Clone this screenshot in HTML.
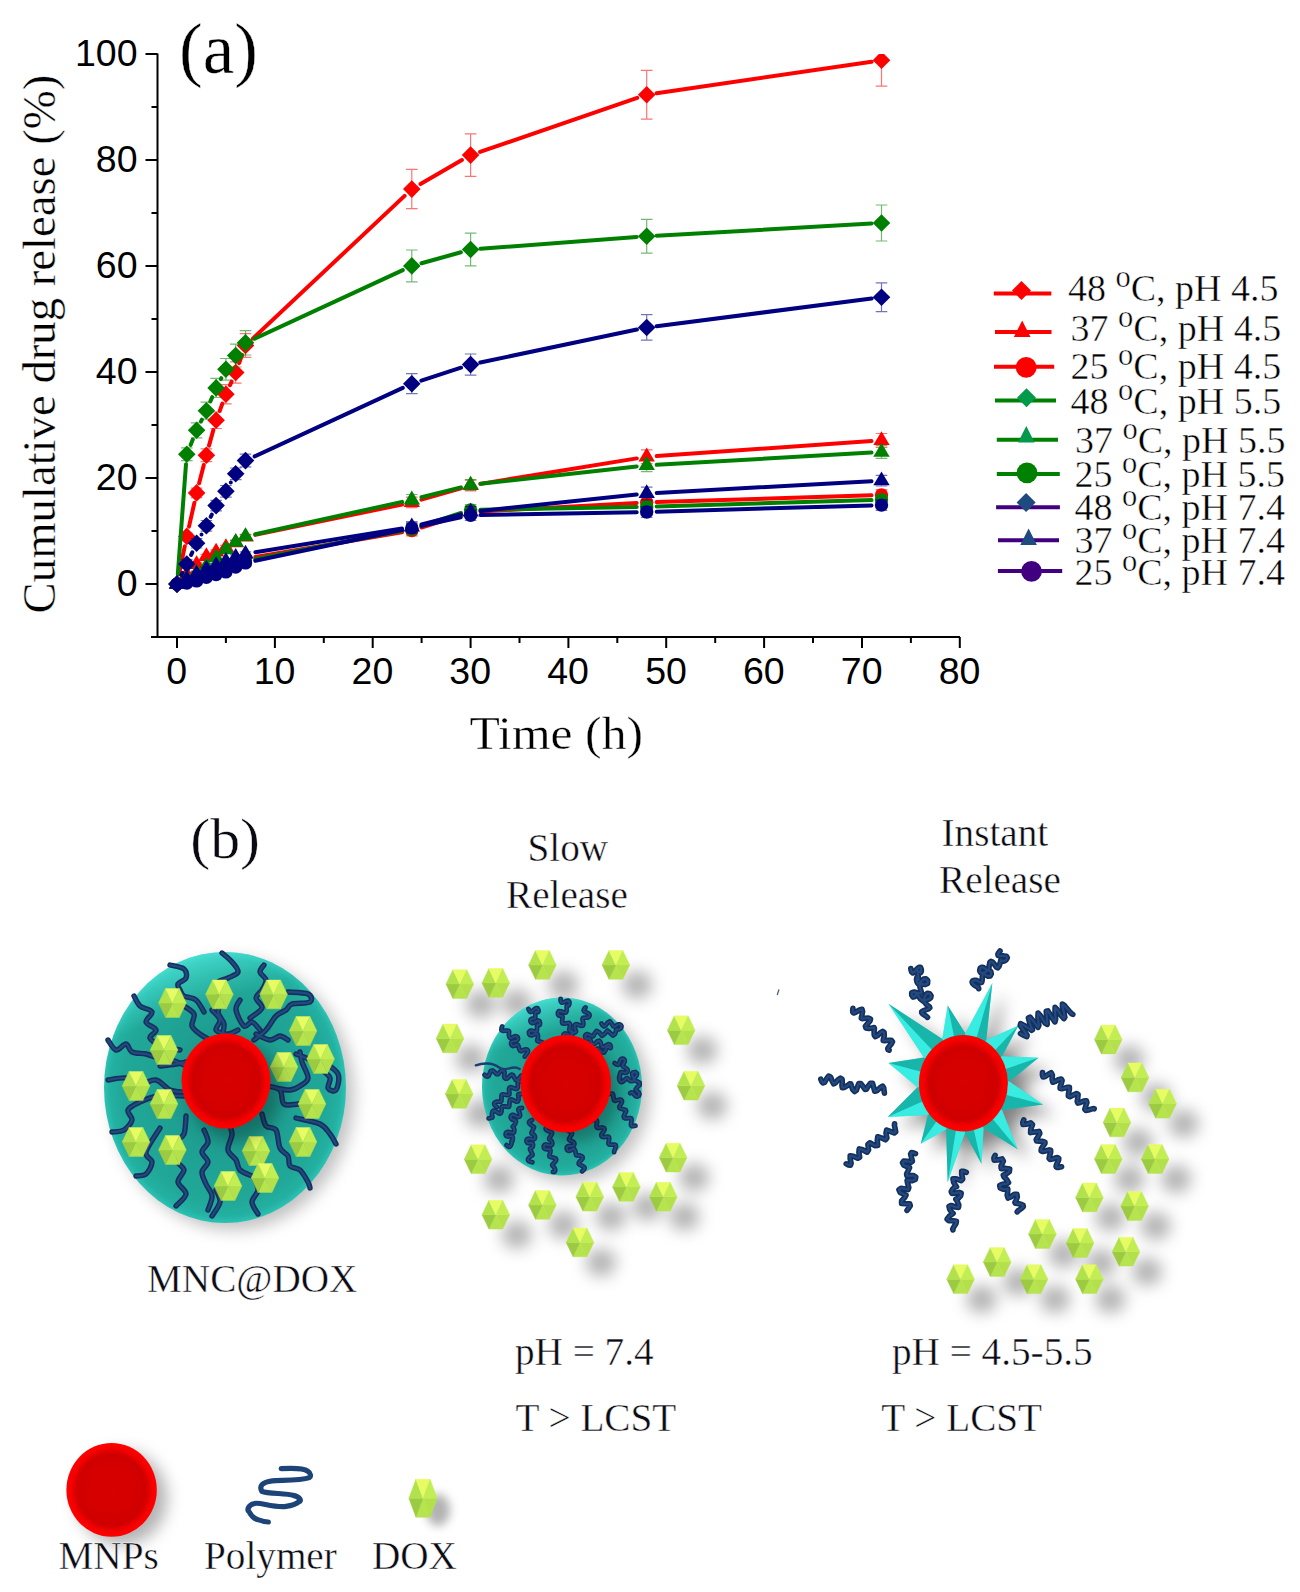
<!DOCTYPE html>
<html><head><meta charset="utf-8"><style>
html,body{margin:0;padding:0;background:#fff;}
svg{display:block;}
</style></head><body>
<svg width="1300" height="1592" viewBox="0 0 1300 1592">
<rect width="1300" height="1592" fill="#fff"/>
<defs><clipPath id="pc"><rect x="158" y="54" width="810" height="582"/></clipPath></defs>
<g clip-path="url(#pc)">
<path d="M177.0 581.4V586.8M171.2 581.4h11.6M171.2 586.8h11.6M186.8 533.2V539.6M181.0 533.2h11.6M181.0 539.6h11.6M196.6 488.1V497.7M190.8 488.1h11.6M190.8 497.7h11.6M206.4 448.9V461.6M200.6 448.9h11.6M200.6 461.6h11.6M216.1 412.0V428.5M210.3 412.0h11.6M210.3 428.5h11.6M225.9 384.7V403.8M220.1 384.7h11.6M220.1 403.8h11.6M235.7 361.9V383.1M229.9 361.9h11.6M229.9 383.1h11.6M245.5 333.6V357.4M239.7 333.6h11.6M239.7 357.4h11.6M411.8 169.4V208.7M406.0 169.4h11.6M406.0 208.7h11.6M470.6 133.9V176.3M464.8 133.9h11.6M464.8 176.3h11.6M646.7 70.3V119.1M640.9 70.3h11.6M640.9 119.1h11.6M881.5 34.2V86.2M875.7 34.2h11.6M875.7 86.2h11.6" stroke="#ff0000" stroke-opacity="0.55" stroke-width="1.2" fill="none"/>
<path d="M179.0 574.3L184.8 546.2M189.0 526.6L194.4 502.7M199.1 483.2L203.8 464.9M209.0 445.6L213.4 429.9M219.7 410.9L222.4 403.6M230.0 385.2L231.6 381.6M239.1 363.1L242.1 354.9M252.8 338.6L404.6 195.9M420.5 184.1L461.9 160.1M480.0 151.9L637.2 97.9M656.6 93.2L871.6 61.7" stroke="#ff0000" stroke-width="4" stroke-linecap="round" fill="none"/>
<path d="M177.0 575.3L185.8 584.1L177.0 592.9L168.2 584.1Z" fill="#ff0000"/>
<path d="M186.8 527.6L195.6 536.4L186.8 545.2L178.0 536.4Z" fill="#ff0000"/>
<path d="M196.6 484.1L205.4 492.9L196.6 501.7L187.8 492.9Z" fill="#ff0000"/>
<path d="M206.4 446.4L215.2 455.2L206.4 464.0L197.6 455.2Z" fill="#ff0000"/>
<path d="M216.1 411.5L224.9 420.3L216.1 429.1L207.3 420.3Z" fill="#ff0000"/>
<path d="M225.9 385.5L234.7 394.3L225.9 403.1L217.1 394.3Z" fill="#ff0000"/>
<path d="M235.7 363.7L244.5 372.5L235.7 381.3L226.9 372.5Z" fill="#ff0000"/>
<path d="M245.5 336.7L254.3 345.5L245.5 354.3L236.7 345.5Z" fill="#ff0000"/>
<path d="M411.8 180.3L420.6 189.1L411.8 197.9L403.0 189.1Z" fill="#ff0000"/>
<path d="M470.6 146.3L479.4 155.1L470.6 163.9L461.8 155.1Z" fill="#ff0000"/>
<path d="M646.7 85.9L655.5 94.7L646.7 103.5L637.9 94.7Z" fill="#ff0000"/>
<path d="M881.5 51.4L890.3 60.2L881.5 69.0L872.7 60.2Z" fill="#ff0000"/>
<path d="M177.0 582.0V586.2M171.2 582.0h11.6M171.2 586.2h11.6M186.8 572.4V576.7M181.0 572.4h11.6M181.0 576.7h11.6M196.6 562.4V566.6M190.8 562.4h11.6M190.8 566.6h11.6M206.4 554.4V558.6M200.6 554.4h11.6M200.6 558.6h11.6M216.1 549.9V554.1M210.3 549.9h11.6M210.3 554.1h11.6M225.9 545.4V549.6M220.1 545.4h11.6M220.1 549.6h11.6M235.7 540.6V544.9M229.9 540.6h11.6M229.9 544.9h11.6M245.5 534.8V539.0M239.7 534.8h11.6M239.7 539.0h11.6M411.8 497.1V507.7M406.0 497.1h11.6M406.0 507.7h11.6M470.6 480.2V490.8M464.8 480.2h11.6M464.8 490.8h11.6M646.7 449.9V463.7M640.9 449.9h11.6M640.9 463.7h11.6M881.5 433.5V447.3M875.7 433.5h11.6M875.7 447.3h11.6" stroke="#ff0000" stroke-opacity="0.55" stroke-width="1.2" fill="none"/>
<path d="M255.3 534.9L402.0 504.5M421.4 499.7L460.9 488.3M480.4 483.9L636.8 458.4M656.7 456.1L871.5 441.1" stroke="#ff0000" stroke-width="4" stroke-linecap="round" fill="none"/>
<path d="M177.0 574.9L185.2 588.7L168.8 588.7Z" fill="#ff0000"/>
<path d="M186.8 565.4L195.0 579.2L178.6 579.2Z" fill="#ff0000"/>
<path d="M196.6 555.3L204.8 569.1L188.4 569.1Z" fill="#ff0000"/>
<path d="M206.4 547.3L214.6 561.1L198.2 561.1Z" fill="#ff0000"/>
<path d="M216.1 542.8L224.3 556.6L207.9 556.6Z" fill="#ff0000"/>
<path d="M225.9 538.3L234.1 552.1L217.7 552.1Z" fill="#ff0000"/>
<path d="M235.7 533.5L243.9 547.3L227.5 547.3Z" fill="#ff0000"/>
<path d="M245.5 527.7L253.7 541.5L237.3 541.5Z" fill="#ff0000"/>
<path d="M411.8 493.2L420.0 507.0L403.6 507.0Z" fill="#ff0000"/>
<path d="M470.6 476.3L478.8 490.1L462.4 490.1Z" fill="#ff0000"/>
<path d="M646.7 447.6L654.9 461.4L638.5 461.4Z" fill="#ff0000"/>
<path d="M881.5 431.2L889.7 445.0L873.3 445.0Z" fill="#ff0000"/>
<path d="M177.0 582.5V585.7M171.2 582.5h11.6M171.2 585.7h11.6M186.8 579.9V583.0M181.0 579.9h11.6M181.0 583.0h11.6M196.6 577.2V580.4M190.8 577.2h11.6M190.8 580.4h11.6M206.4 573.0V576.1M200.6 573.0h11.6M200.6 576.1h11.6M216.1 569.3V572.4M210.3 569.3h11.6M210.3 572.4h11.6M225.9 565.5V568.7M220.1 565.5h11.6M220.1 568.7h11.6M235.7 561.3V564.5M229.9 561.3h11.6M229.9 564.5h11.6M245.5 557.1V560.2M239.7 557.1h11.6M239.7 560.2h11.6M411.8 525.2V535.8M406.0 525.2h11.6M406.0 535.8h11.6M470.6 506.7V517.3M464.8 506.7h11.6M464.8 517.3h11.6M646.7 497.1V507.7M640.9 497.1h11.6M640.9 507.7h11.6M881.5 489.7V500.3M875.7 489.7h11.6M875.7 500.3h11.6" stroke="#ff0000" stroke-opacity="0.55" stroke-width="1.2" fill="none"/>
<path d="M255.4 557.0L402.0 532.2M421.4 527.5L461.0 515.0M480.5 511.4L636.7 503.0M656.7 502.1L871.5 495.3" stroke="#ff0000" stroke-width="4" stroke-linecap="round" fill="none"/>
<circle cx="177.0" cy="584.1" r="6.7" fill="#ff0000"/>
<circle cx="186.8" cy="581.4" r="6.7" fill="#ff0000"/>
<circle cx="196.6" cy="578.8" r="6.7" fill="#ff0000"/>
<circle cx="206.4" cy="574.6" r="6.7" fill="#ff0000"/>
<circle cx="216.1" cy="570.8" r="6.7" fill="#ff0000"/>
<circle cx="225.9" cy="567.1" r="6.7" fill="#ff0000"/>
<circle cx="235.7" cy="562.9" r="6.7" fill="#ff0000"/>
<circle cx="245.5" cy="558.6" r="6.7" fill="#ff0000"/>
<circle cx="411.8" cy="530.5" r="6.7" fill="#ff0000"/>
<circle cx="470.6" cy="512.0" r="6.7" fill="#ff0000"/>
<circle cx="646.7" cy="502.4" r="6.7" fill="#ff0000"/>
<circle cx="881.5" cy="495.0" r="6.7" fill="#ff0000"/>
<path d="M177.0 581.4V586.8M171.2 581.4h11.6M171.2 586.8h11.6M186.8 447.8V460.6M181.0 447.8h11.6M181.0 460.6h11.6M196.6 422.9V437.8M190.8 422.9h11.6M190.8 437.8h11.6M206.4 402.2V419.2M200.6 402.2h11.6M200.6 419.2h11.6M216.1 378.4V397.5M210.3 378.4h11.6M210.3 397.5h11.6M225.9 358.5V380.2M220.1 358.5h11.6M220.1 380.2h11.6M235.7 344.2V367.0M229.9 344.2h11.6M229.9 367.0h11.6M245.5 330.6V355.0M239.7 330.6h11.6M239.7 355.0h11.6M411.8 250.0V281.9M406.0 250.0h11.6M406.0 281.9h11.6M470.6 233.1V265.9M464.8 233.1h11.6M464.8 265.9h11.6M646.7 219.3V253.2M640.9 219.3h11.6M640.9 253.2h11.6M881.5 205.0V241.0M875.7 205.0h11.6M875.7 241.0h11.6" stroke="#008000" stroke-opacity="0.55" stroke-width="1.2" fill="none"/>
<path d="M177.8 574.1L186.0 464.2M190.6 444.9L192.8 439.6M201.0 421.4L201.9 419.7M210.3 401.5L212.2 397.1M220.8 379.1L221.3 378.2M254.6 338.6L402.8 270.1M421.5 263.3L460.9 252.2M480.5 248.8L636.7 237.0M656.7 235.7L871.5 223.6" stroke="#008000" stroke-width="4" stroke-linecap="round" fill="none"/>
<path d="M177.0 575.3L185.8 584.1L177.0 592.9L168.2 584.1Z" fill="#008000"/>
<path d="M186.8 445.4L195.6 454.2L186.8 463.0L178.0 454.2Z" fill="#008000"/>
<path d="M196.6 421.5L205.4 430.3L196.6 439.1L187.8 430.3Z" fill="#008000"/>
<path d="M206.4 401.9L215.2 410.7L206.4 419.5L197.6 410.7Z" fill="#008000"/>
<path d="M216.1 379.1L224.9 387.9L216.1 396.7L207.3 387.9Z" fill="#008000"/>
<path d="M225.9 360.5L234.7 369.3L225.9 378.1L217.1 369.3Z" fill="#008000"/>
<path d="M235.7 346.8L244.5 355.6L235.7 364.4L226.9 355.6Z" fill="#008000"/>
<path d="M245.5 334.0L254.3 342.8L245.5 351.6L236.7 342.8Z" fill="#008000"/>
<path d="M411.8 257.1L420.6 265.9L411.8 274.8L403.0 265.9Z" fill="#008000"/>
<path d="M470.6 240.7L479.4 249.5L470.6 258.3L461.8 249.5Z" fill="#008000"/>
<path d="M646.7 227.5L655.5 236.3L646.7 245.1L637.9 236.3Z" fill="#008000"/>
<path d="M881.5 214.2L890.3 223.0L881.5 231.8L872.7 223.0Z" fill="#008000"/>
<path d="M177.0 582.0V586.2M171.2 582.0h11.6M171.2 586.2h11.6M186.8 576.7V580.9M181.0 576.7h11.6M181.0 580.9h11.6M196.6 570.8V575.1M190.8 570.8h11.6M190.8 575.1h11.6M206.4 564.0V568.2M200.6 564.0h11.6M200.6 568.2h11.6M216.1 555.5V559.7M210.3 555.5h11.6M210.3 559.7h11.6M225.9 547.5V551.8M220.1 547.5h11.6M220.1 551.8h11.6M235.7 540.1V544.3M229.9 540.1h11.6M229.9 544.3h11.6M245.5 534.3V538.5M239.7 534.3h11.6M239.7 538.5h11.6M411.8 494.5V505.1M406.0 494.5h11.6M406.0 505.1h11.6M470.6 479.6V490.2M464.8 479.6h11.6M464.8 490.2h11.6M646.7 459.0V471.7M640.9 459.0h11.6M640.9 471.7h11.6M881.5 445.7V458.4M875.7 445.7h11.6M875.7 458.4h11.6" stroke="#008000" stroke-opacity="0.55" stroke-width="1.2" fill="none"/>
<path d="M255.3 534.2L402.1 501.9M421.5 497.3L460.9 487.4M480.5 483.8L636.7 466.4M656.7 464.8L871.5 452.6" stroke="#008000" stroke-width="4" stroke-linecap="round" fill="none"/>
<path d="M177.0 574.9L185.2 588.7L168.8 588.7Z" fill="#008000"/>
<path d="M186.8 569.6L195.0 583.4L178.6 583.4Z" fill="#008000"/>
<path d="M196.6 563.8L204.8 577.6L188.4 577.6Z" fill="#008000"/>
<path d="M206.4 556.9L214.6 570.7L198.2 570.7Z" fill="#008000"/>
<path d="M216.1 548.4L224.3 562.2L207.9 562.2Z" fill="#008000"/>
<path d="M225.9 540.4L234.1 554.2L217.7 554.2Z" fill="#008000"/>
<path d="M235.7 533.0L243.9 546.8L227.5 546.8Z" fill="#008000"/>
<path d="M245.5 527.2L253.7 541.0L237.3 541.0Z" fill="#008000"/>
<path d="M411.8 490.6L420.0 504.4L403.6 504.4Z" fill="#008000"/>
<path d="M470.6 475.7L478.8 489.5L462.4 489.5Z" fill="#008000"/>
<path d="M646.7 456.1L654.9 469.9L638.5 469.9Z" fill="#008000"/>
<path d="M881.5 442.9L889.7 456.7L873.3 456.7Z" fill="#008000"/>
<path d="M177.0 582.5V585.7M171.2 582.5h11.6M171.2 585.7h11.6M186.8 580.4V583.6M181.0 580.4h11.6M181.0 583.6h11.6M196.6 577.7V580.9M190.8 577.7h11.6M190.8 580.9h11.6M206.4 574.0V577.2M200.6 574.0h11.6M200.6 577.2h11.6M216.1 570.3V573.5M210.3 570.3h11.6M210.3 573.5h11.6M225.9 566.6V569.8M220.1 566.6h11.6M220.1 569.8h11.6M235.7 562.9V566.1M229.9 562.9h11.6M229.9 566.1h11.6M245.5 559.2V562.4M239.7 559.2h11.6M239.7 562.4h11.6M411.8 523.7V534.3M406.0 523.7h11.6M406.0 534.3h11.6M470.6 504.6V515.2M464.8 504.6h11.6M464.8 515.2h11.6M646.7 501.4V512.0M640.9 501.4h11.6M640.9 512.0h11.6M881.5 494.5V505.1M875.7 494.5h11.6M875.7 505.1h11.6" stroke="#008000" stroke-opacity="0.55" stroke-width="1.2" fill="none"/>
<path d="M255.3 558.9L402.0 530.8M421.3 525.9L461.0 513.0M480.5 509.7L636.7 506.9M656.7 506.4L871.5 500.1" stroke="#008000" stroke-width="4" stroke-linecap="round" fill="none"/>
<circle cx="177.0" cy="584.1" r="6.7" fill="#008000"/>
<circle cx="186.8" cy="582.0" r="6.7" fill="#008000"/>
<circle cx="196.6" cy="579.3" r="6.7" fill="#008000"/>
<circle cx="206.4" cy="575.6" r="6.7" fill="#008000"/>
<circle cx="216.1" cy="571.9" r="6.7" fill="#008000"/>
<circle cx="225.9" cy="568.2" r="6.7" fill="#008000"/>
<circle cx="235.7" cy="564.5" r="6.7" fill="#008000"/>
<circle cx="245.5" cy="560.8" r="6.7" fill="#008000"/>
<circle cx="411.8" cy="529.0" r="6.7" fill="#008000"/>
<circle cx="470.6" cy="509.9" r="6.7" fill="#008000"/>
<circle cx="646.7" cy="506.7" r="6.7" fill="#008000"/>
<circle cx="881.5" cy="499.8" r="6.7" fill="#008000"/>
<path d="M177.0 581.4V586.8M171.2 581.4h11.6M171.2 586.8h11.6M186.8 559.7V568.2M181.0 559.7h11.6M181.0 568.2h11.6M196.6 538.5V548.0M190.8 538.5h11.6M190.8 548.0h11.6M206.4 520.5V531.1M200.6 520.5h11.6M200.6 531.1h11.6M216.1 500.3V510.9M210.3 500.3h11.6M210.3 510.9h11.6M225.9 485.5V497.1M220.1 485.5h11.6M220.1 497.1h11.6M235.7 468.0V479.6M229.9 468.0h11.6M229.9 479.6h11.6M245.5 454.2V466.9M239.7 454.2h11.6M239.7 466.9h11.6M411.8 373.6V393.7M406.0 373.6h11.6M406.0 393.7h11.6M470.6 354.0V375.2M464.8 354.0h11.6M464.8 375.2h11.6M646.7 314.7V340.2M640.9 314.7h11.6M640.9 340.2h11.6M881.5 282.9V311.6M875.7 282.9h11.6M875.7 311.6h11.6" stroke="#000080" stroke-opacity="0.55" stroke-width="1.2" fill="none"/>
<path d="M181.4 575.1L182.4 572.9M191.1 554.9L192.3 552.3M201.5 534.5L201.5 534.5M210.7 516.8L211.8 514.6M230.8 482.6L230.8 482.5M254.6 456.4L402.8 387.9M421.3 380.6L461.0 367.7M480.3 362.5L636.9 329.5M656.6 326.2L871.6 298.5" stroke="#000080" stroke-width="4" stroke-linecap="round" fill="none"/>
<path d="M177.0 575.3L185.8 584.1L177.0 592.9L168.2 584.1Z" fill="#000080"/>
<path d="M186.8 555.2L195.6 564.0L186.8 572.8L178.0 564.0Z" fill="#000080"/>
<path d="M196.6 534.5L205.4 543.3L196.6 552.1L187.8 543.3Z" fill="#000080"/>
<path d="M206.4 517.0L215.2 525.8L206.4 534.6L197.6 525.8Z" fill="#000080"/>
<path d="M216.1 496.8L224.9 505.6L216.1 514.4L207.3 505.6Z" fill="#000080"/>
<path d="M225.9 482.5L234.7 491.3L225.9 500.1L217.1 491.3Z" fill="#000080"/>
<path d="M235.7 465.0L244.5 473.8L235.7 482.6L226.9 473.8Z" fill="#000080"/>
<path d="M245.5 451.8L254.3 460.6L245.5 469.4L236.7 460.6Z" fill="#000080"/>
<path d="M411.8 374.9L420.6 383.7L411.8 392.5L403.0 383.7Z" fill="#000080"/>
<path d="M470.6 355.8L479.4 364.6L470.6 373.4L461.8 364.6Z" fill="#000080"/>
<path d="M646.7 318.7L655.5 327.5L646.7 336.3L637.9 327.5Z" fill="#000080"/>
<path d="M881.5 288.4L890.3 297.2L881.5 306.0L872.7 297.2Z" fill="#000080"/>
<path d="M177.0 582.0V586.2M171.2 582.0h11.6M171.2 586.2h11.6M186.8 577.2V581.4M181.0 577.2h11.6M181.0 581.4h11.6M196.6 571.9V576.1M190.8 571.9h11.6M190.8 576.1h11.6M206.4 567.1V571.4M200.6 567.1h11.6M200.6 571.4h11.6M216.1 563.4V567.7M210.3 563.4h11.6M210.3 567.7h11.6M225.9 559.2V563.4M220.1 559.2h11.6M220.1 563.4h11.6M235.7 554.9V559.2M229.9 554.9h11.6M229.9 559.2h11.6M245.5 551.8V556.0M239.7 551.8h11.6M239.7 556.0h11.6M411.8 521.5V532.1M406.0 521.5h11.6M406.0 532.1h11.6M470.6 506.7V517.3M464.8 506.7h11.6M464.8 517.3h11.6M646.7 487.1V499.8M640.9 487.1h11.6M640.9 499.8h11.6M881.5 475.4V486.0M875.7 475.4h11.6M875.7 486.0h11.6" stroke="#000080" stroke-opacity="0.55" stroke-width="1.2" fill="none"/>
<path d="M255.4 552.3L402.0 528.4M421.5 524.4L460.9 514.4M480.5 510.9L636.7 494.5M656.7 492.9L871.5 481.2" stroke="#000080" stroke-width="4" stroke-linecap="round" fill="none"/>
<path d="M177.0 574.9L185.2 588.7L168.8 588.7Z" fill="#000080"/>
<path d="M186.8 570.1L195.0 583.9L178.6 583.9Z" fill="#000080"/>
<path d="M196.6 564.8L204.8 578.6L188.4 578.6Z" fill="#000080"/>
<path d="M206.4 560.1L214.6 573.9L198.2 573.9Z" fill="#000080"/>
<path d="M216.1 556.3L224.3 570.1L207.9 570.1Z" fill="#000080"/>
<path d="M225.9 552.1L234.1 565.9L217.7 565.9Z" fill="#000080"/>
<path d="M235.7 547.9L243.9 561.7L227.5 561.7Z" fill="#000080"/>
<path d="M245.5 544.7L253.7 558.5L237.3 558.5Z" fill="#000080"/>
<path d="M411.8 517.6L420.0 531.4L403.6 531.4Z" fill="#000080"/>
<path d="M470.6 502.8L478.8 516.6L462.4 516.6Z" fill="#000080"/>
<path d="M646.7 484.2L654.9 498.0L638.5 498.0Z" fill="#000080"/>
<path d="M881.5 471.5L889.7 485.3L873.3 485.3Z" fill="#000080"/>
<path d="M177.0 582.5V585.7M171.2 582.5h11.6M171.2 585.7h11.6M186.8 581.4V584.6M181.0 581.4h11.6M181.0 584.6h11.6M196.6 579.3V582.5M190.8 579.3h11.6M190.8 582.5h11.6M206.4 575.6V578.8M200.6 575.6h11.6M200.6 578.8h11.6M216.1 573.0V576.1M210.3 573.0h11.6M210.3 576.1h11.6M225.9 570.3V573.5M220.1 570.3h11.6M220.1 573.5h11.6M235.7 565.5V568.7M229.9 565.5h11.6M229.9 568.7h11.6M245.5 561.3V564.5M239.7 561.3h11.6M239.7 564.5h11.6M411.8 522.6V533.2M406.0 522.6h11.6M406.0 533.2h11.6M470.6 509.9V520.5M464.8 509.9h11.6M464.8 520.5h11.6M646.7 506.7V517.3M640.9 506.7h11.6M640.9 517.3h11.6M881.5 499.8V510.4M875.7 499.8h11.6M875.7 510.4h11.6" stroke="#000080" stroke-opacity="0.55" stroke-width="1.2" fill="none"/>
<path d="M255.3 560.8L402.1 530.0M421.6 525.8L460.8 517.3M480.5 515.0L636.7 512.2M656.7 511.7L871.5 505.4" stroke="#000080" stroke-width="4" stroke-linecap="round" fill="none"/>
<circle cx="177.0" cy="584.1" r="6.7" fill="#000080"/>
<circle cx="186.8" cy="583.0" r="6.7" fill="#000080"/>
<circle cx="196.6" cy="580.9" r="6.7" fill="#000080"/>
<circle cx="206.4" cy="577.2" r="6.7" fill="#000080"/>
<circle cx="216.1" cy="574.6" r="6.7" fill="#000080"/>
<circle cx="225.9" cy="571.9" r="6.7" fill="#000080"/>
<circle cx="235.7" cy="567.1" r="6.7" fill="#000080"/>
<circle cx="245.5" cy="562.9" r="6.7" fill="#000080"/>
<circle cx="411.8" cy="527.9" r="6.7" fill="#000080"/>
<circle cx="470.6" cy="515.2" r="6.7" fill="#000080"/>
<circle cx="646.7" cy="512.0" r="6.7" fill="#000080"/>
<circle cx="881.5" cy="505.1" r="6.7" fill="#000080"/>
</g>
<g stroke="#000" stroke-width="2" fill="none">
<path d="M157.5 53.5V637.5M151 637H960"/>
<path d="M151.5 637.1H157.5M145.5 584.1H157.5M151.5 531.1H157.5M145.5 478.1H157.5M151.5 425.0H157.5M145.5 372.0H157.5M151.5 319.0H157.5M145.5 265.9H157.5M151.5 212.9H157.5M145.5 159.9H157.5M151.5 106.9H157.5M145.5 53.9H157.5M177.0 637V648M225.9 637V643M274.9 637V648M323.8 637V643M372.7 637V648M421.6 637V643M470.6 637V648M519.5 637V643M568.4 637V648M617.3 637V643M666.2 637V648M715.2 637V643M764.1 637V648M813.0 637V643M862.0 637V648M910.9 637V643M959.8 637V648"/>
</g>
<g font-family="Liberation Sans" font-size="37.5" fill="#000">
<text x="137.5" y="596.0" text-anchor="end">0</text>
<text x="137.5" y="489.9" text-anchor="end">20</text>
<text x="137.5" y="383.9" text-anchor="end">40</text>
<text x="137.5" y="277.8" text-anchor="end">60</text>
<text x="137.5" y="171.8" text-anchor="end">80</text>
<text x="137.5" y="65.8" text-anchor="end">100</text>
<text x="176.7" y="684" text-anchor="middle">0</text>
<text x="274.6" y="684" text-anchor="middle">10</text>
<text x="372.4" y="684" text-anchor="middle">20</text>
<text x="470.2" y="684" text-anchor="middle">30</text>
<text x="568.1" y="684" text-anchor="middle">40</text>
<text x="666.0" y="684" text-anchor="middle">50</text>
<text x="763.8" y="684" text-anchor="middle">60</text>
<text x="861.7" y="684" text-anchor="middle">70</text>
<text x="959.5" y="684" text-anchor="middle">80</text>
</g>
<g font-family="Liberation Serif" fill="#000" stroke="#fff" stroke-width="0.4">
<text transform="translate(469.5,749) scale(1.047,1)" font-size="47.5">Time (h)</text>
<text transform="translate(54.5,613.4) rotate(-90)" font-size="46.75">Cumulative drug release (%)</text>
<text x="179" y="73" font-size="71">(a)</text>
</g>
<path d="M993.8 293.5H1051.3" stroke="#ff0000" stroke-width="4"/>
<path d="M1021.5 281.0L1031.0 290.5L1021.5 300.0L1012.0 290.5Z" fill="#ff0000"/>
<text x="1068" y="300.6" font-family="Liberation Serif" font-size="38" stroke="#fff" stroke-width="0.45">48 <tspan font-size="30.5" dy="-14">o</tspan><tspan dy="14">C, pH 4.5</tspan></text>
<path d="M995 332H1051.5" stroke="#ff0000" stroke-width="4"/>
<path d="M1022.2 320.5L1030.5 337L1013.9000000000001 337Z" fill="#ff0000"/>
<text x="1070.6" y="341.2" font-family="Liberation Serif" font-size="38" stroke="#fff" stroke-width="0.45">37 <tspan font-size="30.5" dy="-14">o</tspan><tspan dy="14">C, pH 4.5</tspan></text>
<path d="M994 366.8H1054.2" stroke="#ff0000" stroke-width="4"/>
<circle cx="1026.2" cy="367.4" r="10.4" fill="#ff0000"/>
<text x="1070.6" y="379.4" font-family="Liberation Serif" font-size="38" stroke="#fff" stroke-width="0.45">25 <tspan font-size="30.5" dy="-14">o</tspan><tspan dy="14">C, pH 4.5</tspan></text>
<path d="M995 400.4H1056" stroke="#008000" stroke-width="4"/>
<path d="M1026.5 388.3L1036.0 397.8L1026.5 407.3L1017.0 397.8Z" fill="#009a4a"/>
<text x="1070.6" y="413.8" font-family="Liberation Serif" font-size="38" stroke="#fff" stroke-width="0.45">48 <tspan font-size="30.5" dy="-14">o</tspan><tspan dy="14">C, pH 5.5</tspan></text>
<path d="M996.8 439.8H1058" stroke="#008000" stroke-width="4"/>
<path d="M1026.3 426.0L1034.6 442.5L1018.0 442.5Z" fill="#009a4a"/>
<text x="1075" y="453.2" font-family="Liberation Serif" font-size="38" stroke="#fff" stroke-width="0.45">37 <tspan font-size="30.5" dy="-14">o</tspan><tspan dy="14">C, pH 5.5</tspan></text>
<path d="M996.8 474H1059.8" stroke="#008000" stroke-width="4"/>
<circle cx="1027" cy="472.9" r="10.4" fill="#008000"/>
<text x="1074.5" y="486.5" font-family="Liberation Serif" font-size="38" stroke="#fff" stroke-width="0.45">25 <tspan font-size="30.5" dy="-14">o</tspan><tspan dy="14">C, pH 5.5</tspan></text>
<path d="M996.1 507.3H1059.9" stroke="#400080" stroke-width="4"/>
<path d="M1026.1 493.1L1035.6 502.6L1026.1 512.1L1016.5999999999999 502.6Z" fill="#1f4a80"/>
<text x="1074.5" y="520.4" font-family="Liberation Serif" font-size="38" stroke="#fff" stroke-width="0.45">48 <tspan font-size="30.5" dy="-14">o</tspan><tspan dy="14">C, pH 7.4</tspan></text>
<path d="M998 540.2H1059" stroke="#400080" stroke-width="4"/>
<path d="M1028.6 528.5L1036.8999999999999 545L1020.3 545Z" fill="#1f4a80"/>
<text x="1074.5" y="553" font-family="Liberation Serif" font-size="38" stroke="#fff" stroke-width="0.45">37 <tspan font-size="30.5" dy="-14">o</tspan><tspan dy="14">C, pH 7.4</tspan></text>
<path d="M997.9 571H1062.2" stroke="#400080" stroke-width="4"/>
<circle cx="1031.5" cy="571.4" r="10.4" fill="#400080"/>
<text x="1074.5" y="585" font-family="Liberation Serif" font-size="38" stroke="#fff" stroke-width="0.45">25 <tspan font-size="30.5" dy="-14">o</tspan><tspan dy="14">C, pH 7.4</tspan></text>
<defs>
<g id="hx" filter="url(#bl2)"><path d="M0 0L13.85 0.00L6.92 14.40Z" fill="#b4e04c" stroke="#b4e04c" stroke-width="0.4"/><path d="M0 0L6.92 14.40L-6.92 14.40Z" fill="#b6e44e" stroke="#b6e44e" stroke-width="0.4"/><path d="M0 0L-6.92 14.40L-13.85 0.00Z" fill="#9ccb42" stroke="#9ccb42" stroke-width="0.4"/><path d="M0 0L-13.85 0.00L-6.92 -14.40Z" fill="#b2e24c" stroke="#b2e24c" stroke-width="0.4"/><path d="M0 0L-6.92 -14.40L6.92 -14.40Z" fill="#e6fc62" stroke="#e6fc62" stroke-width="0.4"/><path d="M0 0L6.92 -14.40L13.85 0.00Z" fill="#c2ee52" stroke="#c2ee52" stroke-width="0.4"/></g>
<radialGradient id="teal" cx="0.5" cy="0.5" r="0.5">
 <stop offset="0" stop-color="#1a9284"/>
 <stop offset="0.55" stop-color="#1ea193"/>
 <stop offset="0.85" stop-color="#21a898"/>
 <stop offset="0.95" stop-color="#23b1a2"/>
 <stop offset="1" stop-color="#2cc2b4"/>
</radialGradient>
<linearGradient id="tealhl" x1="0.3" y1="0" x2="0.6" y2="1">
 <stop offset="0" stop-color="#55f2e6" stop-opacity="0.7"/>
 <stop offset="0.22" stop-color="#55f2e6" stop-opacity="0"/>
 <stop offset="1" stop-color="#000" stop-opacity="0"/>
</linearGradient>
<radialGradient id="redg" cx="0.5" cy="0.5" r="0.5">
 <stop offset="0" stop-color="#d80000"/>
 <stop offset="0.6" stop-color="#d40000"/>
 <stop offset="0.76" stop-color="#cf0000"/>
 <stop offset="0.9" stop-color="#f60000"/>
 <stop offset="1" stop-color="#ff0000"/>
</radialGradient>
<filter id="bl8" x="-50%" y="-50%" width="200%" height="200%"><feGaussianBlur stdDeviation="8"/></filter>
<filter id="bl5" x="-50%" y="-50%" width="200%" height="200%"><feGaussianBlur stdDeviation="5"/></filter>
<filter id="bl7" x="-50%" y="-50%" width="200%" height="200%"><feGaussianBlur stdDeviation="7"/></filter>
<filter id="bl2" x="-20%" y="-20%" width="140%" height="140%"><feGaussianBlur stdDeviation="0.6"/></filter>
</defs><ellipse cx="233" cy="1094.5" rx="121" ry="135.5" fill="#000" fill-opacity="0.24" filter="url(#bl8)"/><ellipse cx="225" cy="1087.5" rx="121" ry="135.5" fill="url(#teal)"/><ellipse cx="225" cy="1087.5" rx="121" ry="135.5" fill="url(#tealhl)"/><path d="M222.0 953.0C223.7 954.5 229.3 958.8 232.0 962.0C234.7 965.2 238.7 969.3 238.0 972.0C237.3 974.7 231.3 976.3 228.0 978.0C224.7 979.7 219.8 980.0 218.0 982.0C216.2 984.0 216.3 987.0 217.0 990.0C217.7 993.0 221.8 996.3 222.0 1000.0C222.2 1003.7 217.7 1008.0 218.0 1012.0C218.3 1016.0 223.3 1020.0 224.0 1024.0C224.7 1028.0 222.3 1034.0 222.0 1036.0M170.0 965.0C172.3 965.7 181.3 966.8 184.0 969.0C186.7 971.2 187.0 975.5 186.0 978.0C185.0 980.5 179.0 982.0 178.0 984.0C177.0 986.0 179.0 988.0 180.0 990.0C181.0 992.0 181.3 994.3 184.0 996.0C186.7 997.7 192.7 997.3 196.0 1000.0C199.3 1002.7 202.7 1010.0 204.0 1012.0M264.0 965.0C263.3 966.2 259.7 969.5 260.0 972.0C260.3 974.5 265.7 977.0 266.0 980.0C266.3 983.0 263.7 987.0 262.0 990.0C260.3 993.0 256.0 995.0 256.0 998.0C256.0 1001.0 263.0 1004.7 262.0 1008.0C261.0 1011.3 252.0 1016.3 250.0 1018.0M134.0 996.0C135.0 997.7 137.0 1003.3 140.0 1006.0C143.0 1008.7 151.0 1009.3 152.0 1012.0C153.0 1014.7 145.3 1019.0 146.0 1022.0C146.7 1025.0 155.3 1027.3 156.0 1030.0C156.7 1032.7 149.0 1035.3 150.0 1038.0C151.0 1040.7 157.0 1044.0 162.0 1046.0C167.0 1048.0 177.0 1049.3 180.0 1050.0M108.0 1040.0C109.3 1041.7 113.0 1049.3 116.0 1050.0C119.0 1050.7 123.3 1043.7 126.0 1044.0C128.7 1044.3 128.7 1050.3 132.0 1052.0C135.3 1053.7 141.7 1053.0 146.0 1054.0C150.3 1055.0 153.7 1057.0 158.0 1058.0C162.3 1059.0 167.3 1058.7 172.0 1060.0C176.7 1061.3 183.7 1065.0 186.0 1066.0M288.0 992.0C291.3 992.3 304.3 992.3 308.0 994.0C311.7 995.7 312.7 1000.3 310.0 1002.0C307.3 1003.7 296.0 1002.7 292.0 1004.0C288.0 1005.3 288.7 1008.0 286.0 1010.0C283.3 1012.0 279.3 1012.7 276.0 1016.0C272.7 1019.3 269.7 1026.0 266.0 1030.0C262.3 1034.0 256.0 1038.3 254.0 1040.0M324.0 1062.0C326.3 1064.0 336.0 1069.3 338.0 1074.0C340.0 1078.7 337.7 1087.7 336.0 1090.0C334.3 1092.3 329.0 1090.0 328.0 1088.0C327.0 1086.0 331.0 1081.0 330.0 1078.0C329.0 1075.0 325.3 1073.0 322.0 1070.0C318.7 1067.0 314.3 1062.7 310.0 1060.0C305.7 1057.3 298.3 1055.0 296.0 1054.0M300.0 1052.0C300.3 1053.7 300.7 1057.7 302.0 1062.0C303.3 1066.3 308.3 1074.0 308.0 1078.0C307.7 1082.0 303.0 1084.0 300.0 1086.0C297.0 1088.0 294.0 1089.7 290.0 1090.0C286.0 1090.3 278.3 1088.3 276.0 1088.0M268.0 1086.0C270.0 1086.7 277.3 1087.0 280.0 1090.0C282.7 1093.0 281.0 1101.7 284.0 1104.0C287.0 1106.3 293.3 1104.3 298.0 1104.0C302.7 1103.7 309.7 1102.3 312.0 1102.0M262.0 1114.0C262.7 1116.0 263.7 1123.3 266.0 1126.0C268.3 1128.7 273.7 1126.3 276.0 1130.0C278.3 1133.7 278.0 1143.7 280.0 1148.0C282.0 1152.3 286.3 1153.0 288.0 1156.0C289.7 1159.0 288.0 1163.7 290.0 1166.0C292.0 1168.3 297.0 1167.3 300.0 1170.0C303.0 1172.7 306.3 1179.0 308.0 1182.0C309.7 1185.0 309.7 1187.0 310.0 1188.0M296.0 1118.0C300.0 1119.0 314.3 1121.3 320.0 1124.0C325.7 1126.7 327.3 1130.7 330.0 1134.0C332.7 1137.3 335.0 1142.3 336.0 1144.0M204.0 1130.0C204.7 1132.0 208.3 1138.3 208.0 1142.0C207.7 1145.7 202.0 1148.7 202.0 1152.0C202.0 1155.3 208.0 1158.7 208.0 1162.0C208.0 1165.3 202.3 1168.3 202.0 1172.0C201.7 1175.7 204.3 1180.0 206.0 1184.0C207.7 1188.0 211.7 1191.7 212.0 1196.0C212.3 1200.3 208.7 1207.7 208.0 1210.0M228.0 1122.0C228.7 1124.0 232.0 1129.3 232.0 1134.0C232.0 1138.7 227.3 1145.7 228.0 1150.0C228.7 1154.3 234.0 1156.7 236.0 1160.0C238.0 1163.3 237.3 1167.3 240.0 1170.0C242.7 1172.7 250.0 1175.0 252.0 1176.0M186.0 1116.0C185.7 1119.0 185.7 1129.7 184.0 1134.0C182.3 1138.3 176.3 1139.0 176.0 1142.0C175.7 1145.0 181.7 1148.7 182.0 1152.0C182.3 1155.3 177.7 1159.0 178.0 1162.0C178.3 1165.0 184.0 1166.7 184.0 1170.0C184.0 1173.3 177.7 1178.0 178.0 1182.0C178.3 1186.0 186.3 1190.0 186.0 1194.0C185.7 1198.0 177.7 1204.0 176.0 1206.0M160.0 1128.0C157.7 1132.0 147.3 1146.3 146.0 1152.0C144.7 1157.7 152.0 1158.3 152.0 1162.0C152.0 1165.7 148.7 1171.7 146.0 1174.0C143.3 1176.3 137.7 1175.7 136.0 1176.0M112.0 1132.0C114.0 1131.7 120.7 1132.0 124.0 1130.0C127.3 1128.0 131.3 1123.3 132.0 1120.0C132.7 1116.7 126.7 1113.0 128.0 1110.0C129.3 1107.0 135.0 1104.3 140.0 1102.0C145.0 1099.7 150.7 1097.0 158.0 1096.0C165.3 1095.0 179.7 1096.0 184.0 1096.0M254.0 1178.0C254.7 1180.0 258.3 1186.0 258.0 1190.0C257.7 1194.0 252.0 1198.0 252.0 1202.0C252.0 1206.0 257.0 1212.0 258.0 1214.0M216.0 1190.0C216.7 1192.0 220.7 1197.7 220.0 1202.0C219.3 1206.3 213.3 1213.7 212.0 1216.0M160.0 1066.0C162.7 1065.7 171.7 1064.7 176.0 1064.0C180.3 1063.3 184.3 1062.3 186.0 1062.0M184.0 1006.0C185.7 1007.3 192.7 1010.7 194.0 1014.0C195.3 1017.3 191.0 1022.7 192.0 1026.0C193.0 1029.3 197.0 1031.7 200.0 1034.0C203.0 1036.3 208.3 1039.0 210.0 1040.0M212.0 1010.0C213.3 1011.7 219.3 1016.7 220.0 1020.0C220.7 1023.3 214.7 1027.7 216.0 1030.0C217.3 1032.3 224.3 1034.0 228.0 1034.0C231.7 1034.0 236.3 1030.7 238.0 1030.0M240.0 1000.0C239.3 1001.7 235.3 1005.7 236.0 1010.0C236.7 1014.3 241.3 1024.0 244.0 1026.0C246.7 1028.0 249.3 1021.3 252.0 1022.0C254.7 1022.7 258.7 1028.7 260.0 1030.0M256.0 1034.0C258.3 1035.0 266.0 1039.7 270.0 1040.0C274.0 1040.3 277.0 1036.0 280.0 1036.0C283.0 1036.0 286.7 1039.3 288.0 1040.0M108.0 1080.0C111.0 1079.7 120.7 1077.3 126.0 1078.0C131.3 1078.7 135.0 1083.7 140.0 1084.0C145.0 1084.3 151.0 1079.0 156.0 1080.0C161.0 1081.0 165.3 1088.0 170.0 1090.0C174.7 1092.0 181.7 1091.7 184.0 1092.0" fill="none" stroke="#14305c" stroke-width="5.4" stroke-linecap="round" stroke-linejoin="round"/><path d="M222.0 953.0C223.7 954.5 229.3 958.8 232.0 962.0C234.7 965.2 238.7 969.3 238.0 972.0C237.3 974.7 231.3 976.3 228.0 978.0C224.7 979.7 219.8 980.0 218.0 982.0C216.2 984.0 216.3 987.0 217.0 990.0C217.7 993.0 221.8 996.3 222.0 1000.0C222.2 1003.7 217.7 1008.0 218.0 1012.0C218.3 1016.0 223.3 1020.0 224.0 1024.0C224.7 1028.0 222.3 1034.0 222.0 1036.0M170.0 965.0C172.3 965.7 181.3 966.8 184.0 969.0C186.7 971.2 187.0 975.5 186.0 978.0C185.0 980.5 179.0 982.0 178.0 984.0C177.0 986.0 179.0 988.0 180.0 990.0C181.0 992.0 181.3 994.3 184.0 996.0C186.7 997.7 192.7 997.3 196.0 1000.0C199.3 1002.7 202.7 1010.0 204.0 1012.0M264.0 965.0C263.3 966.2 259.7 969.5 260.0 972.0C260.3 974.5 265.7 977.0 266.0 980.0C266.3 983.0 263.7 987.0 262.0 990.0C260.3 993.0 256.0 995.0 256.0 998.0C256.0 1001.0 263.0 1004.7 262.0 1008.0C261.0 1011.3 252.0 1016.3 250.0 1018.0M134.0 996.0C135.0 997.7 137.0 1003.3 140.0 1006.0C143.0 1008.7 151.0 1009.3 152.0 1012.0C153.0 1014.7 145.3 1019.0 146.0 1022.0C146.7 1025.0 155.3 1027.3 156.0 1030.0C156.7 1032.7 149.0 1035.3 150.0 1038.0C151.0 1040.7 157.0 1044.0 162.0 1046.0C167.0 1048.0 177.0 1049.3 180.0 1050.0M108.0 1040.0C109.3 1041.7 113.0 1049.3 116.0 1050.0C119.0 1050.7 123.3 1043.7 126.0 1044.0C128.7 1044.3 128.7 1050.3 132.0 1052.0C135.3 1053.7 141.7 1053.0 146.0 1054.0C150.3 1055.0 153.7 1057.0 158.0 1058.0C162.3 1059.0 167.3 1058.7 172.0 1060.0C176.7 1061.3 183.7 1065.0 186.0 1066.0M288.0 992.0C291.3 992.3 304.3 992.3 308.0 994.0C311.7 995.7 312.7 1000.3 310.0 1002.0C307.3 1003.7 296.0 1002.7 292.0 1004.0C288.0 1005.3 288.7 1008.0 286.0 1010.0C283.3 1012.0 279.3 1012.7 276.0 1016.0C272.7 1019.3 269.7 1026.0 266.0 1030.0C262.3 1034.0 256.0 1038.3 254.0 1040.0M324.0 1062.0C326.3 1064.0 336.0 1069.3 338.0 1074.0C340.0 1078.7 337.7 1087.7 336.0 1090.0C334.3 1092.3 329.0 1090.0 328.0 1088.0C327.0 1086.0 331.0 1081.0 330.0 1078.0C329.0 1075.0 325.3 1073.0 322.0 1070.0C318.7 1067.0 314.3 1062.7 310.0 1060.0C305.7 1057.3 298.3 1055.0 296.0 1054.0M300.0 1052.0C300.3 1053.7 300.7 1057.7 302.0 1062.0C303.3 1066.3 308.3 1074.0 308.0 1078.0C307.7 1082.0 303.0 1084.0 300.0 1086.0C297.0 1088.0 294.0 1089.7 290.0 1090.0C286.0 1090.3 278.3 1088.3 276.0 1088.0M268.0 1086.0C270.0 1086.7 277.3 1087.0 280.0 1090.0C282.7 1093.0 281.0 1101.7 284.0 1104.0C287.0 1106.3 293.3 1104.3 298.0 1104.0C302.7 1103.7 309.7 1102.3 312.0 1102.0M262.0 1114.0C262.7 1116.0 263.7 1123.3 266.0 1126.0C268.3 1128.7 273.7 1126.3 276.0 1130.0C278.3 1133.7 278.0 1143.7 280.0 1148.0C282.0 1152.3 286.3 1153.0 288.0 1156.0C289.7 1159.0 288.0 1163.7 290.0 1166.0C292.0 1168.3 297.0 1167.3 300.0 1170.0C303.0 1172.7 306.3 1179.0 308.0 1182.0C309.7 1185.0 309.7 1187.0 310.0 1188.0M296.0 1118.0C300.0 1119.0 314.3 1121.3 320.0 1124.0C325.7 1126.7 327.3 1130.7 330.0 1134.0C332.7 1137.3 335.0 1142.3 336.0 1144.0M204.0 1130.0C204.7 1132.0 208.3 1138.3 208.0 1142.0C207.7 1145.7 202.0 1148.7 202.0 1152.0C202.0 1155.3 208.0 1158.7 208.0 1162.0C208.0 1165.3 202.3 1168.3 202.0 1172.0C201.7 1175.7 204.3 1180.0 206.0 1184.0C207.7 1188.0 211.7 1191.7 212.0 1196.0C212.3 1200.3 208.7 1207.7 208.0 1210.0M228.0 1122.0C228.7 1124.0 232.0 1129.3 232.0 1134.0C232.0 1138.7 227.3 1145.7 228.0 1150.0C228.7 1154.3 234.0 1156.7 236.0 1160.0C238.0 1163.3 237.3 1167.3 240.0 1170.0C242.7 1172.7 250.0 1175.0 252.0 1176.0M186.0 1116.0C185.7 1119.0 185.7 1129.7 184.0 1134.0C182.3 1138.3 176.3 1139.0 176.0 1142.0C175.7 1145.0 181.7 1148.7 182.0 1152.0C182.3 1155.3 177.7 1159.0 178.0 1162.0C178.3 1165.0 184.0 1166.7 184.0 1170.0C184.0 1173.3 177.7 1178.0 178.0 1182.0C178.3 1186.0 186.3 1190.0 186.0 1194.0C185.7 1198.0 177.7 1204.0 176.0 1206.0M160.0 1128.0C157.7 1132.0 147.3 1146.3 146.0 1152.0C144.7 1157.7 152.0 1158.3 152.0 1162.0C152.0 1165.7 148.7 1171.7 146.0 1174.0C143.3 1176.3 137.7 1175.7 136.0 1176.0M112.0 1132.0C114.0 1131.7 120.7 1132.0 124.0 1130.0C127.3 1128.0 131.3 1123.3 132.0 1120.0C132.7 1116.7 126.7 1113.0 128.0 1110.0C129.3 1107.0 135.0 1104.3 140.0 1102.0C145.0 1099.7 150.7 1097.0 158.0 1096.0C165.3 1095.0 179.7 1096.0 184.0 1096.0M254.0 1178.0C254.7 1180.0 258.3 1186.0 258.0 1190.0C257.7 1194.0 252.0 1198.0 252.0 1202.0C252.0 1206.0 257.0 1212.0 258.0 1214.0M216.0 1190.0C216.7 1192.0 220.7 1197.7 220.0 1202.0C219.3 1206.3 213.3 1213.7 212.0 1216.0M160.0 1066.0C162.7 1065.7 171.7 1064.7 176.0 1064.0C180.3 1063.3 184.3 1062.3 186.0 1062.0M184.0 1006.0C185.7 1007.3 192.7 1010.7 194.0 1014.0C195.3 1017.3 191.0 1022.7 192.0 1026.0C193.0 1029.3 197.0 1031.7 200.0 1034.0C203.0 1036.3 208.3 1039.0 210.0 1040.0M212.0 1010.0C213.3 1011.7 219.3 1016.7 220.0 1020.0C220.7 1023.3 214.7 1027.7 216.0 1030.0C217.3 1032.3 224.3 1034.0 228.0 1034.0C231.7 1034.0 236.3 1030.7 238.0 1030.0M240.0 1000.0C239.3 1001.7 235.3 1005.7 236.0 1010.0C236.7 1014.3 241.3 1024.0 244.0 1026.0C246.7 1028.0 249.3 1021.3 252.0 1022.0C254.7 1022.7 258.7 1028.7 260.0 1030.0M256.0 1034.0C258.3 1035.0 266.0 1039.7 270.0 1040.0C274.0 1040.3 277.0 1036.0 280.0 1036.0C283.0 1036.0 286.7 1039.3 288.0 1040.0M108.0 1080.0C111.0 1079.7 120.7 1077.3 126.0 1078.0C131.3 1078.7 135.0 1083.7 140.0 1084.0C145.0 1084.3 151.0 1079.0 156.0 1080.0C161.0 1081.0 165.3 1088.0 170.0 1090.0C174.7 1092.0 181.7 1091.7 184.0 1092.0" fill="none" stroke="#234a80" stroke-width="2.2" stroke-linecap="round" stroke-linejoin="round"/><use href="#hx" transform="translate(172.4,1003.0)"/><use href="#hx" transform="translate(219.4,994.4)"/><use href="#hx" transform="translate(273.6,994.4)"/><use href="#hx" transform="translate(303.0,1031.0)"/><use href="#hx" transform="translate(164.0,1050.0)"/><use href="#hx" transform="translate(320.6,1059.0)"/><use href="#hx" transform="translate(284.0,1067.0)"/><use href="#hx" transform="translate(136.0,1086.0)"/><use href="#hx" transform="translate(164.0,1104.0)"/><use href="#hx" transform="translate(312.0,1104.0)"/><use href="#hx" transform="translate(136.0,1142.0)"/><use href="#hx" transform="translate(303.0,1142.0)"/><use href="#hx" transform="translate(172.4,1150.0)"/><use href="#hx" transform="translate(256.0,1151.0)"/><use href="#hx" transform="translate(265.0,1178.0)"/><use href="#hx" transform="translate(228.0,1186.0)"/><ellipse cx="236" cy="1092" rx="46" ry="49" fill="#000" fill-opacity="0.28" filter="url(#bl8)"/><ellipse cx="226" cy="1081" rx="44.5" ry="47.5" fill="url(#redg)"/><g filter="url(#bl8)" fill="#000" fill-opacity="0.3"><ellipse cx="480.8" cy="1004.1" rx="15" ry="14"/><ellipse cx="516.8" cy="1002.9" rx="15" ry="14"/><ellipse cx="563.4" cy="984.9" rx="15" ry="14"/><ellipse cx="636.9" cy="984.9" rx="15" ry="14"/><ellipse cx="471.0" cy="1058.4" rx="15" ry="14"/><ellipse cx="702.2" cy="1050.2" rx="15" ry="14"/><ellipse cx="480.2" cy="1113.9" rx="15" ry="14"/><ellipse cx="712.0" cy="1105.7" rx="15" ry="14"/><ellipse cx="499.1" cy="1179.2" rx="15" ry="14"/><ellipse cx="694.1" cy="1177.6" rx="15" ry="14"/><ellipse cx="516.8" cy="1234.7" rx="15" ry="14"/><ellipse cx="563.4" cy="1224.9" rx="15" ry="14"/><ellipse cx="610.8" cy="1216.7" rx="15" ry="14"/><ellipse cx="647.4" cy="1206.9" rx="15" ry="14"/><ellipse cx="684.3" cy="1216.7" rx="15" ry="14"/><ellipse cx="601.0" cy="1262.4" rx="15" ry="14"/></g><ellipse cx="570" cy="1093.5" rx="80" ry="89" fill="#000" fill-opacity="0.24" filter="url(#bl8)"/><ellipse cx="562" cy="1086.5" rx="80" ry="89" fill="url(#teal)"/><ellipse cx="562" cy="1086.5" rx="80" ry="89" fill="url(#tealhl)"/><path d="M560.6 998.8L560.6 1000.2L560.9 1001.7L561.9 1002.6L563.8 1002.1L566.2 1001.1L568.3 1000.7L569.4 1001.9L569.4 1003.9L568.7 1005.5L567.6 1005.9L567.0 1005.6L566.7 1006.0L566.7 1007.9L566.7 1010.8L565.9 1012.6L563.7 1012.4L561.0 1011.3L558.9 1011.2L557.9 1012.6L558.0 1014.4L559.0 1015.6L560.3 1015.9L561.4 1015.9L562.2 1016.1L562.6 1016.8L562.5 1018.4L562.2 1020.4L562.1 1022.2L562.4 1023.2L563.4 1023.6L565.2 1023.5L567.4 1023.1L569.2 1023.0L570.1 1024.0L570.0 1026.1L569.5 1028.3L569.3 1029.9L569.6 1030.6L570.4 1030.7L571.4 1030.9L572.3 1031.7L572.6 1033.2L572.3 1034.7L571.3 1035.6L569.8 1035.4L568.1 1034.5L566.2 1033.6L564.7 1033.5L563.6 1034.4L563.3 1036.0L563.9 1037.4L565.1 1038.4L566.4 1039.2L567.3 1039.9L567.5 1040.7L566.9 1041.8L565.9 1043.0L564.9 1044.1L564.2 1044.9L563.8 1045.4M528.5 1009.0L529.0 1010.2L529.8 1011.5L530.9 1012.0L532.4 1011.2L534.2 1009.4L535.9 1008.1L537.4 1008.2L538.3 1009.5L538.6 1011.1L538.3 1012.0L537.5 1011.9L536.5 1011.6L535.7 1011.8L535.3 1013.2L535.3 1015.6L535.2 1017.8L534.6 1018.9L533.4 1018.9L532.0 1018.7L530.8 1019.3L530.4 1020.9L531.0 1022.5L532.3 1023.2L534.2 1022.6L536.3 1021.2L538.2 1020.5L539.5 1021.2L540.0 1023.0L539.8 1024.6L539.0 1025.1L538.2 1024.7L537.6 1024.6L537.2 1025.6L537.1 1027.8L536.9 1030.4L535.9 1031.7L534.2 1031.5L532.1 1030.7L530.3 1030.7L529.0 1032.0L529.1 1034.0L530.1 1035.2L531.6 1035.4L533.3 1034.8L535.0 1033.9L536.5 1033.6L537.5 1034.3L537.9 1035.9L537.9 1037.8L537.5 1039.2L537.2 1040.2L537.4 1040.9L538.4 1041.4L540.0 1041.7L541.7 1042.1L543.1 1042.7L543.8 1043.4L543.9 1044.1L543.6 1044.9L543.2 1045.5M585.5 1007.5L584.8 1008.2L584.1 1009.2L583.7 1010.2L583.9 1011.1L584.9 1011.8L586.6 1012.5L588.3 1013.3L589.4 1014.4L589.6 1015.7L588.9 1016.8L587.5 1017.5L585.9 1017.7L584.3 1017.7L583.2 1017.9L582.6 1018.6L582.6 1019.9L583.0 1021.6L583.3 1023.3L583.3 1024.6L582.9 1025.5L582.0 1025.9L580.7 1025.8L579.4 1025.3L578.1 1024.8L577.0 1024.3L576.0 1024.2L575.3 1024.5L574.8 1025.3L574.6 1026.3L574.7 1027.6L575.1 1028.8L575.6 1029.9L576.0 1030.9L576.0 1031.6L575.6 1032.1L574.8 1032.5L573.8 1032.8L572.7 1033.0L571.9 1033.2L571.2 1033.3M601.5 1023.6L602.5 1025.2L603.9 1026.3L605.7 1025.3L607.7 1022.5L609.8 1021.3L611.7 1023.5L613.3 1026.3L614.8 1026.8L616.4 1025.5L618.0 1024.4L619.6 1024.3L620.9 1025.0L621.5 1026.2L621.2 1027.7L620.1 1028.8L618.6 1029.4L617.2 1029.5L616.4 1029.4L616.1 1029.9L615.9 1031.5L614.9 1034.1L612.9 1035.5L610.2 1032.9L607.5 1030.6L604.8 1033.7L602.0 1035.7L599.2 1032.3L596.6 1030.9L594.5 1033.7L593.3 1036.1L592.2 1036.5L590.6 1035.6L588.6 1034.5L586.8 1034.2L585.6 1034.8L585.1 1036.0L585.3 1037.4L586.0 1038.5L587.0 1039.0L587.9 1038.8L588.7 1038.2L589.5 1038.3L590.3 1039.8L591.3 1042.6L592.7 1044.5L594.8 1043.7L597.2 1041.4L599.3 1040.7L600.6 1042.4L601.2 1044.8L601.9 1046.7L603.2 1047.3L604.9 1046.5L606.9 1045.0L608.6 1044.2L609.9 1044.6L610.5 1045.7L610.8 1047.1L610.6 1048.1L610.0 1048.2L609.2 1047.6L608.0 1046.8L606.7 1047.4L605.5 1050.1L603.9 1052.6L601.9 1052.3L599.6 1049.8L597.7 1048.5L596.4 1049.2L595.6 1050.6M614.7 1063.1L615.5 1063.8L616.6 1064.5L617.8 1064.8L618.7 1064.3L619.3 1062.8L620.0 1060.8L620.9 1059.3L622.1 1058.6L623.6 1058.9L624.7 1060.1L624.7 1061.7L624.0 1063.1L623.0 1064.5L622.5 1065.6L623.1 1066.5L624.8 1067.5L626.7 1068.7L627.7 1070.1L627.6 1071.4L626.5 1072.5L624.8 1072.9L623.0 1072.4L621.5 1072.0L620.5 1072.5L620.0 1074.1L619.8 1076.2L619.7 1077.9L619.7 1078.6L620.0 1078.2L619.8 1076.7L619.2 1076.6L619.1 1078.0L619.5 1080.1L620.5 1081.8L622.1 1082.0L624.1 1080.5L625.9 1078.6L627.2 1078.0L628.3 1078.9L629.2 1080.3L630.7 1081.2L632.5 1081.2L633.7 1080.3L633.8 1078.7L633.0 1076.9L632.2 1075.1L632.0 1073.7L632.8 1072.5L635.3 1072.0L637.0 1073.5L636.7 1075.3L635.1 1077.4L634.1 1079.4L636.1 1081.0L639.6 1082.6L639.7 1085.0L636.9 1087.5L635.6 1089.5L637.0 1091.0L638.8 1092.4L639.4 1094.2L638.8 1095.8L637.5 1096.5L636.0 1096.3L634.7 1095.2L633.6 1093.8L632.7 1092.8L631.8 1092.5L630.9 1092.6L630.3 1093.1M606.0 1090.0L605.8 1090.7L605.5 1091.4L605.2 1092.3L605.2 1093.1L605.5 1093.8L606.3 1094.2L607.4 1094.4L608.9 1094.2L610.4 1093.9L611.6 1093.6L612.5 1093.6L613.0 1094.3L613.3 1095.7L613.5 1097.7L613.8 1099.5L614.4 1100.6L615.5 1100.8L617.1 1100.2L619.0 1099.7L620.8 1099.7L621.9 1100.6L622.0 1102.0L621.2 1103.7L620.0 1105.5L619.3 1106.9L619.6 1108.0L621.1 1108.7L623.0 1109.3L624.8 1109.7L625.8 1110.2L626.1 1111.1L625.7 1112.2L625.0 1113.5L624.3 1114.9L623.8 1116.1L623.8 1117.1L624.3 1117.9L625.2 1118.3L626.7 1118.4L628.3 1118.2L630.0 1118.1L631.2 1118.4L631.6 1119.5L631.4 1121.4L631.0 1123.6L631.0 1125.2L631.7 1126.1L633.0 1126.2L634.3 1125.9L635.4 1125.7M590.0 1116.0L589.7 1116.7L589.4 1117.5L589.2 1118.3L589.2 1119.2L589.6 1119.8L590.3 1120.2L591.6 1120.3L593.1 1120.2L594.6 1120.1L595.8 1120.0L596.7 1120.3L597.0 1121.2L597.0 1122.8L596.6 1124.8L596.5 1126.6L597.0 1127.7L598.1 1128.0L599.8 1127.8L601.6 1127.5L603.2 1127.6L604.2 1128.3L604.6 1129.3L604.2 1130.5L603.5 1131.7L602.5 1132.8L601.7 1133.8L601.3 1134.8L601.4 1135.8L602.1 1136.6L603.3 1137.0L604.8 1137.0L606.1 1136.8L607.3 1136.6L608.3 1136.6L608.9 1137.1L609.2 1138.0L609.1 1139.4L608.9 1140.9L608.5 1142.4L608.4 1143.5L608.9 1144.3L610.3 1144.6L612.4 1144.6L614.5 1144.7L615.8 1145.3L616.0 1146.7L615.3 1148.4L614.6 1150.1L614.2 1151.3L614.1 1152.2M569.0 1126.0L568.4 1126.4L567.6 1127.0L566.9 1127.6L566.5 1128.3L566.5 1129.1L567.1 1129.9L568.2 1130.8L569.6 1131.5L570.9 1132.1L571.7 1132.7L572.1 1133.3L571.8 1134.2L571.1 1135.4L570.1 1136.9L569.3 1138.4L569.0 1139.5L569.6 1140.2L570.7 1140.7L572.2 1141.2L573.5 1142.0L574.3 1143.3L574.3 1144.7L573.5 1145.6L572.2 1146.0L570.6 1146.0L569.0 1146.0L567.7 1146.4L566.8 1147.4L566.7 1148.8L567.5 1150.3L568.9 1150.9L570.4 1150.5L571.8 1149.6L573.1 1148.8L574.2 1149.0L575.0 1150.3L575.6 1152.3L575.9 1154.1L576.1 1155.1L576.4 1155.4L577.3 1155.4L578.7 1155.4L580.3 1155.7L581.8 1156.3L582.6 1157.2L582.6 1158.3L581.8 1159.5L580.5 1160.7L579.4 1161.9L578.8 1163.0L578.8 1163.9L579.7 1164.7L581.2 1165.5L582.9 1166.2L584.2 1167.1L584.7 1168.0L584.4 1168.9L583.7 1169.8L582.8 1170.6L582.1 1171.3M548.0 1126.0L547.5 1126.4L547.0 1126.9L546.4 1127.4L545.9 1128.0L545.7 1128.7L545.8 1129.3L546.4 1130.0L547.3 1130.6L548.5 1131.1L549.8 1131.5L551.0 1131.9L551.8 1132.3L552.1 1133.2L551.6 1134.5L550.7 1136.1L549.8 1137.5L549.2 1138.6L549.2 1139.3L549.9 1139.7L550.9 1140.3L551.9 1141.5L552.3 1143.1L552.1 1144.6L551.2 1145.3L549.6 1145.3L547.7 1144.8L545.9 1144.5L544.5 1144.9L543.8 1146.2L543.9 1147.8L544.9 1148.9L546.4 1149.3L547.9 1149.1L549.2 1149.0L550.1 1149.4L550.5 1150.6L550.3 1152.4L549.8 1154.2L549.4 1155.6L549.5 1156.4L550.4 1157.0L552.1 1157.4L554.2 1157.8L555.7 1158.5L556.2 1159.7L555.6 1161.1L554.3 1162.6L553.0 1163.9L552.3 1164.8L552.2 1165.4L552.7 1165.8L553.5 1166.6L554.3 1167.7L554.9 1168.9L555.2 1170.1L555.1 1171.0L554.7 1171.6L554.1 1171.9L553.5 1171.9L552.9 1171.9M532.0 1120.0L531.3 1120.3L530.4 1120.8L529.6 1121.3L529.1 1122.0L529.1 1122.9L529.8 1123.9L531.0 1124.9L532.2 1125.8L533.3 1126.5L533.9 1127.0L534.0 1127.3L533.7 1128.0L533.2 1129.1L532.5 1130.5L531.9 1131.8L531.5 1132.9L531.6 1133.5L532.0 1133.8L532.8 1134.1L533.8 1134.6L534.7 1135.8L535.0 1137.3L534.8 1138.7L533.7 1139.3L532.0 1139.2L530.1 1138.8L528.3 1138.6L527.1 1139.1L526.5 1140.3L526.6 1141.8L527.5 1142.9L528.8 1143.3L530.0 1143.1L531.2 1142.9L532.1 1143.0L532.7 1143.6L533.0 1144.7L532.9 1146.1L532.4 1147.3L531.6 1148.0L530.7 1148.2L530.2 1148.4L530.0 1148.9L530.2 1149.7L530.8 1151.0L531.6 1152.4L532.2 1153.7L532.6 1154.6L532.5 1155.1L532.0 1155.4L531.1 1155.9L530.0 1156.8L528.9 1157.8L528.1 1159.0L528.0 1160.0L528.5 1160.8L529.4 1161.3L530.5 1161.7L531.6 1162.0L532.3 1162.3M522.0 1108.0L521.2 1108.1L520.2 1108.2L519.3 1108.4L518.6 1108.9L518.3 1109.6L518.6 1110.7L519.2 1112.0L519.8 1113.4L520.1 1114.7L520.0 1115.9L519.3 1116.7L518.2 1117.0L517.0 1116.7L515.7 1116.0L514.4 1115.3L513.2 1114.9L512.1 1115.0L511.2 1115.7L510.7 1116.9L511.0 1118.3L511.9 1119.4L513.3 1119.8L514.8 1120.1L515.7 1120.7L515.9 1121.8L515.3 1123.4L514.3 1125.0L513.3 1126.2L512.8 1126.7L512.9 1126.7L513.5 1127.3L514.1 1128.8L514.3 1130.8L514.0 1132.4L512.8 1133.1L511.0 1132.6L509.0 1131.9L507.2 1131.9L506.0 1132.7L505.6 1134.5L506.4 1136.0L508.0 1136.6L509.9 1136.4L511.6 1136.2L512.6 1136.7L512.8 1138.2L512.6 1140.2L512.2 1141.7L511.7 1142.4L511.3 1141.7L511.6 1140.9L511.8 1141.0L511.8 1142.0L511.5 1143.6L510.9 1145.3L510.1 1146.5L509.1 1146.9L508.1 1146.4L507.3 1145.7L506.6 1145.1M522.0 1094.0L521.4 1094.0L520.7 1094.0L520.0 1094.0L519.3 1094.1L518.8 1094.2L518.4 1094.5L518.2 1095.1L518.3 1096.0L518.5 1097.2L518.6 1098.8L518.4 1100.3L517.8 1101.5L516.5 1101.7L514.6 1100.9L512.6 1099.8L510.9 1099.4L509.9 1100.2L509.5 1102.1L509.4 1104.2L509.3 1105.8L509.0 1106.6L508.2 1106.8L507.1 1106.7L505.8 1106.5L504.4 1106.4L503.2 1106.4L502.3 1106.5L501.8 1106.9L501.7 1107.7L501.7 1109.1L501.6 1110.9L501.1 1112.7L500.2 1113.6L498.7 1113.3L496.9 1112.1L495.1 1110.9L493.7 1110.5L492.7 1111.3L492.2 1112.8L492.0 1114.4L492.2 1115.7L492.4 1116.6L492.5 1117.1L492.3 1117.5L491.9 1117.7L491.3 1117.8L490.6 1118.0L489.8 1118.2L489.2 1118.4L488.6 1118.4M522.0 1082.0L521.5 1081.9L521.0 1081.7L520.4 1081.6L519.8 1081.4L519.2 1081.4L518.7 1081.5L518.2 1081.8L518.0 1082.3L517.8 1083.2L517.8 1084.5L517.9 1086.0L517.8 1087.6L517.2 1088.7L516.1 1089.0L514.5 1088.5L512.6 1087.7L510.9 1087.2L509.7 1087.5L509.1 1088.6L509.1 1090.3L509.3 1091.9L509.4 1093.4L509.3 1094.4L508.8 1094.9L507.7 1095.1L506.4 1095.0L504.9 1094.7L503.6 1094.5L502.5 1094.5L501.9 1094.7L501.6 1095.4L501.5 1096.4L501.5 1097.7L501.5 1099.2L501.4 1100.4L501.2 1101.3L500.8 1101.8L500.2 1101.9L499.4 1101.7L498.5 1101.6L497.3 1101.6L496.1 1101.9L495.0 1102.4L494.4 1103.1L494.2 1103.9L494.4 1104.7L495.0 1105.4L495.7 1106.1L496.4 1106.6L496.8 1107.1M502.2 1026.5L501.8 1027.5L501.5 1028.6L501.4 1029.7L502.0 1030.5L503.4 1030.8L505.3 1030.7L507.2 1030.6L508.5 1030.8L509.1 1031.4L509.1 1032.5L508.9 1034.0L509.0 1035.7L509.5 1037.2L510.2 1038.0L511.2 1038.1L512.4 1037.5L513.7 1036.7L515.1 1036.2L516.5 1036.3L517.6 1037.2L518.0 1038.7L517.5 1040.0L516.4 1040.8L514.8 1041.1L513.2 1041.3L511.9 1041.7L511.2 1042.6L511.1 1043.9L511.8 1045.3L513.2 1046.0L514.7 1045.7L516.0 1044.9L517.2 1044.6L518.1 1045.4L518.8 1047.3L519.5 1049.6L520.4 1051.0L521.5 1051.0L522.9 1050.3L524.4 1049.6L525.9 1049.4L527.1 1049.7L527.9 1050.5L528.0 1051.5L527.7 1052.6L526.9 1053.6L526.2 1054.5L525.5 1055.3L525.1 1056.0L524.9 1056.6M484.6 1074.8L485.8 1075.9L487.3 1076.7L488.7 1075.9L489.7 1073.4L490.9 1070.8L492.7 1070.5L494.9 1072.4L496.8 1074.2L498.1 1074.2L499.1 1073.0L500.3 1071.6L501.7 1070.8L503.1 1070.6L504.1 1071.2L504.6 1072.2L504.5 1073.5L504.3 1074.9L504.2 1076.5L504.6 1077.8L505.6 1078.6L506.9 1078.6L508.2 1077.6L509.6 1076.2L510.8 1075.0L512.0 1074.6L513.0 1075.3L513.9 1076.8L514.8 1078.5L515.7 1079.8L516.6 1080.3L517.5 1080.1L518.5 1079.2L519.4 1078.0L520.3 1076.8L521.1 1075.8L521.8 1075.4L522.5 1075.4L523.1 1075.8L523.6 1076.4L524.0 1076.9" fill="none" stroke="#14305c" stroke-width="4.8" stroke-linecap="round" stroke-linejoin="round"/><path d="M560.6 998.8L560.6 1000.2L560.9 1001.7L561.9 1002.6L563.8 1002.1L566.2 1001.1L568.3 1000.7L569.4 1001.9L569.4 1003.9L568.7 1005.5L567.6 1005.9L567.0 1005.6L566.7 1006.0L566.7 1007.9L566.7 1010.8L565.9 1012.6L563.7 1012.4L561.0 1011.3L558.9 1011.2L557.9 1012.6L558.0 1014.4L559.0 1015.6L560.3 1015.9L561.4 1015.9L562.2 1016.1L562.6 1016.8L562.5 1018.4L562.2 1020.4L562.1 1022.2L562.4 1023.2L563.4 1023.6L565.2 1023.5L567.4 1023.1L569.2 1023.0L570.1 1024.0L570.0 1026.1L569.5 1028.3L569.3 1029.9L569.6 1030.6L570.4 1030.7L571.4 1030.9L572.3 1031.7L572.6 1033.2L572.3 1034.7L571.3 1035.6L569.8 1035.4L568.1 1034.5L566.2 1033.6L564.7 1033.5L563.6 1034.4L563.3 1036.0L563.9 1037.4L565.1 1038.4L566.4 1039.2L567.3 1039.9L567.5 1040.7L566.9 1041.8L565.9 1043.0L564.9 1044.1L564.2 1044.9L563.8 1045.4M528.5 1009.0L529.0 1010.2L529.8 1011.5L530.9 1012.0L532.4 1011.2L534.2 1009.4L535.9 1008.1L537.4 1008.2L538.3 1009.5L538.6 1011.1L538.3 1012.0L537.5 1011.9L536.5 1011.6L535.7 1011.8L535.3 1013.2L535.3 1015.6L535.2 1017.8L534.6 1018.9L533.4 1018.9L532.0 1018.7L530.8 1019.3L530.4 1020.9L531.0 1022.5L532.3 1023.2L534.2 1022.6L536.3 1021.2L538.2 1020.5L539.5 1021.2L540.0 1023.0L539.8 1024.6L539.0 1025.1L538.2 1024.7L537.6 1024.6L537.2 1025.6L537.1 1027.8L536.9 1030.4L535.9 1031.7L534.2 1031.5L532.1 1030.7L530.3 1030.7L529.0 1032.0L529.1 1034.0L530.1 1035.2L531.6 1035.4L533.3 1034.8L535.0 1033.9L536.5 1033.6L537.5 1034.3L537.9 1035.9L537.9 1037.8L537.5 1039.2L537.2 1040.2L537.4 1040.9L538.4 1041.4L540.0 1041.7L541.7 1042.1L543.1 1042.7L543.8 1043.4L543.9 1044.1L543.6 1044.9L543.2 1045.5M585.5 1007.5L584.8 1008.2L584.1 1009.2L583.7 1010.2L583.9 1011.1L584.9 1011.8L586.6 1012.5L588.3 1013.3L589.4 1014.4L589.6 1015.7L588.9 1016.8L587.5 1017.5L585.9 1017.7L584.3 1017.7L583.2 1017.9L582.6 1018.6L582.6 1019.9L583.0 1021.6L583.3 1023.3L583.3 1024.6L582.9 1025.5L582.0 1025.9L580.7 1025.8L579.4 1025.3L578.1 1024.8L577.0 1024.3L576.0 1024.2L575.3 1024.5L574.8 1025.3L574.6 1026.3L574.7 1027.6L575.1 1028.8L575.6 1029.9L576.0 1030.9L576.0 1031.6L575.6 1032.1L574.8 1032.5L573.8 1032.8L572.7 1033.0L571.9 1033.2L571.2 1033.3M601.5 1023.6L602.5 1025.2L603.9 1026.3L605.7 1025.3L607.7 1022.5L609.8 1021.3L611.7 1023.5L613.3 1026.3L614.8 1026.8L616.4 1025.5L618.0 1024.4L619.6 1024.3L620.9 1025.0L621.5 1026.2L621.2 1027.7L620.1 1028.8L618.6 1029.4L617.2 1029.5L616.4 1029.4L616.1 1029.9L615.9 1031.5L614.9 1034.1L612.9 1035.5L610.2 1032.9L607.5 1030.6L604.8 1033.7L602.0 1035.7L599.2 1032.3L596.6 1030.9L594.5 1033.7L593.3 1036.1L592.2 1036.5L590.6 1035.6L588.6 1034.5L586.8 1034.2L585.6 1034.8L585.1 1036.0L585.3 1037.4L586.0 1038.5L587.0 1039.0L587.9 1038.8L588.7 1038.2L589.5 1038.3L590.3 1039.8L591.3 1042.6L592.7 1044.5L594.8 1043.7L597.2 1041.4L599.3 1040.7L600.6 1042.4L601.2 1044.8L601.9 1046.7L603.2 1047.3L604.9 1046.5L606.9 1045.0L608.6 1044.2L609.9 1044.6L610.5 1045.7L610.8 1047.1L610.6 1048.1L610.0 1048.2L609.2 1047.6L608.0 1046.8L606.7 1047.4L605.5 1050.1L603.9 1052.6L601.9 1052.3L599.6 1049.8L597.7 1048.5L596.4 1049.2L595.6 1050.6M614.7 1063.1L615.5 1063.8L616.6 1064.5L617.8 1064.8L618.7 1064.3L619.3 1062.8L620.0 1060.8L620.9 1059.3L622.1 1058.6L623.6 1058.9L624.7 1060.1L624.7 1061.7L624.0 1063.1L623.0 1064.5L622.5 1065.6L623.1 1066.5L624.8 1067.5L626.7 1068.7L627.7 1070.1L627.6 1071.4L626.5 1072.5L624.8 1072.9L623.0 1072.4L621.5 1072.0L620.5 1072.5L620.0 1074.1L619.8 1076.2L619.7 1077.9L619.7 1078.6L620.0 1078.2L619.8 1076.7L619.2 1076.6L619.1 1078.0L619.5 1080.1L620.5 1081.8L622.1 1082.0L624.1 1080.5L625.9 1078.6L627.2 1078.0L628.3 1078.9L629.2 1080.3L630.7 1081.2L632.5 1081.2L633.7 1080.3L633.8 1078.7L633.0 1076.9L632.2 1075.1L632.0 1073.7L632.8 1072.5L635.3 1072.0L637.0 1073.5L636.7 1075.3L635.1 1077.4L634.1 1079.4L636.1 1081.0L639.6 1082.6L639.7 1085.0L636.9 1087.5L635.6 1089.5L637.0 1091.0L638.8 1092.4L639.4 1094.2L638.8 1095.8L637.5 1096.5L636.0 1096.3L634.7 1095.2L633.6 1093.8L632.7 1092.8L631.8 1092.5L630.9 1092.6L630.3 1093.1M606.0 1090.0L605.8 1090.7L605.5 1091.4L605.2 1092.3L605.2 1093.1L605.5 1093.8L606.3 1094.2L607.4 1094.4L608.9 1094.2L610.4 1093.9L611.6 1093.6L612.5 1093.6L613.0 1094.3L613.3 1095.7L613.5 1097.7L613.8 1099.5L614.4 1100.6L615.5 1100.8L617.1 1100.2L619.0 1099.7L620.8 1099.7L621.9 1100.6L622.0 1102.0L621.2 1103.7L620.0 1105.5L619.3 1106.9L619.6 1108.0L621.1 1108.7L623.0 1109.3L624.8 1109.7L625.8 1110.2L626.1 1111.1L625.7 1112.2L625.0 1113.5L624.3 1114.9L623.8 1116.1L623.8 1117.1L624.3 1117.9L625.2 1118.3L626.7 1118.4L628.3 1118.2L630.0 1118.1L631.2 1118.4L631.6 1119.5L631.4 1121.4L631.0 1123.6L631.0 1125.2L631.7 1126.1L633.0 1126.2L634.3 1125.9L635.4 1125.7M590.0 1116.0L589.7 1116.7L589.4 1117.5L589.2 1118.3L589.2 1119.2L589.6 1119.8L590.3 1120.2L591.6 1120.3L593.1 1120.2L594.6 1120.1L595.8 1120.0L596.7 1120.3L597.0 1121.2L597.0 1122.8L596.6 1124.8L596.5 1126.6L597.0 1127.7L598.1 1128.0L599.8 1127.8L601.6 1127.5L603.2 1127.6L604.2 1128.3L604.6 1129.3L604.2 1130.5L603.5 1131.7L602.5 1132.8L601.7 1133.8L601.3 1134.8L601.4 1135.8L602.1 1136.6L603.3 1137.0L604.8 1137.0L606.1 1136.8L607.3 1136.6L608.3 1136.6L608.9 1137.1L609.2 1138.0L609.1 1139.4L608.9 1140.9L608.5 1142.4L608.4 1143.5L608.9 1144.3L610.3 1144.6L612.4 1144.6L614.5 1144.7L615.8 1145.3L616.0 1146.7L615.3 1148.4L614.6 1150.1L614.2 1151.3L614.1 1152.2M569.0 1126.0L568.4 1126.4L567.6 1127.0L566.9 1127.6L566.5 1128.3L566.5 1129.1L567.1 1129.9L568.2 1130.8L569.6 1131.5L570.9 1132.1L571.7 1132.7L572.1 1133.3L571.8 1134.2L571.1 1135.4L570.1 1136.9L569.3 1138.4L569.0 1139.5L569.6 1140.2L570.7 1140.7L572.2 1141.2L573.5 1142.0L574.3 1143.3L574.3 1144.7L573.5 1145.6L572.2 1146.0L570.6 1146.0L569.0 1146.0L567.7 1146.4L566.8 1147.4L566.7 1148.8L567.5 1150.3L568.9 1150.9L570.4 1150.5L571.8 1149.6L573.1 1148.8L574.2 1149.0L575.0 1150.3L575.6 1152.3L575.9 1154.1L576.1 1155.1L576.4 1155.4L577.3 1155.4L578.7 1155.4L580.3 1155.7L581.8 1156.3L582.6 1157.2L582.6 1158.3L581.8 1159.5L580.5 1160.7L579.4 1161.9L578.8 1163.0L578.8 1163.9L579.7 1164.7L581.2 1165.5L582.9 1166.2L584.2 1167.1L584.7 1168.0L584.4 1168.9L583.7 1169.8L582.8 1170.6L582.1 1171.3M548.0 1126.0L547.5 1126.4L547.0 1126.9L546.4 1127.4L545.9 1128.0L545.7 1128.7L545.8 1129.3L546.4 1130.0L547.3 1130.6L548.5 1131.1L549.8 1131.5L551.0 1131.9L551.8 1132.3L552.1 1133.2L551.6 1134.5L550.7 1136.1L549.8 1137.5L549.2 1138.6L549.2 1139.3L549.9 1139.7L550.9 1140.3L551.9 1141.5L552.3 1143.1L552.1 1144.6L551.2 1145.3L549.6 1145.3L547.7 1144.8L545.9 1144.5L544.5 1144.9L543.8 1146.2L543.9 1147.8L544.9 1148.9L546.4 1149.3L547.9 1149.1L549.2 1149.0L550.1 1149.4L550.5 1150.6L550.3 1152.4L549.8 1154.2L549.4 1155.6L549.5 1156.4L550.4 1157.0L552.1 1157.4L554.2 1157.8L555.7 1158.5L556.2 1159.7L555.6 1161.1L554.3 1162.6L553.0 1163.9L552.3 1164.8L552.2 1165.4L552.7 1165.8L553.5 1166.6L554.3 1167.7L554.9 1168.9L555.2 1170.1L555.1 1171.0L554.7 1171.6L554.1 1171.9L553.5 1171.9L552.9 1171.9M532.0 1120.0L531.3 1120.3L530.4 1120.8L529.6 1121.3L529.1 1122.0L529.1 1122.9L529.8 1123.9L531.0 1124.9L532.2 1125.8L533.3 1126.5L533.9 1127.0L534.0 1127.3L533.7 1128.0L533.2 1129.1L532.5 1130.5L531.9 1131.8L531.5 1132.9L531.6 1133.5L532.0 1133.8L532.8 1134.1L533.8 1134.6L534.7 1135.8L535.0 1137.3L534.8 1138.7L533.7 1139.3L532.0 1139.2L530.1 1138.8L528.3 1138.6L527.1 1139.1L526.5 1140.3L526.6 1141.8L527.5 1142.9L528.8 1143.3L530.0 1143.1L531.2 1142.9L532.1 1143.0L532.7 1143.6L533.0 1144.7L532.9 1146.1L532.4 1147.3L531.6 1148.0L530.7 1148.2L530.2 1148.4L530.0 1148.9L530.2 1149.7L530.8 1151.0L531.6 1152.4L532.2 1153.7L532.6 1154.6L532.5 1155.1L532.0 1155.4L531.1 1155.9L530.0 1156.8L528.9 1157.8L528.1 1159.0L528.0 1160.0L528.5 1160.8L529.4 1161.3L530.5 1161.7L531.6 1162.0L532.3 1162.3M522.0 1108.0L521.2 1108.1L520.2 1108.2L519.3 1108.4L518.6 1108.9L518.3 1109.6L518.6 1110.7L519.2 1112.0L519.8 1113.4L520.1 1114.7L520.0 1115.9L519.3 1116.7L518.2 1117.0L517.0 1116.7L515.7 1116.0L514.4 1115.3L513.2 1114.9L512.1 1115.0L511.2 1115.7L510.7 1116.9L511.0 1118.3L511.9 1119.4L513.3 1119.8L514.8 1120.1L515.7 1120.7L515.9 1121.8L515.3 1123.4L514.3 1125.0L513.3 1126.2L512.8 1126.7L512.9 1126.7L513.5 1127.3L514.1 1128.8L514.3 1130.8L514.0 1132.4L512.8 1133.1L511.0 1132.6L509.0 1131.9L507.2 1131.9L506.0 1132.7L505.6 1134.5L506.4 1136.0L508.0 1136.6L509.9 1136.4L511.6 1136.2L512.6 1136.7L512.8 1138.2L512.6 1140.2L512.2 1141.7L511.7 1142.4L511.3 1141.7L511.6 1140.9L511.8 1141.0L511.8 1142.0L511.5 1143.6L510.9 1145.3L510.1 1146.5L509.1 1146.9L508.1 1146.4L507.3 1145.7L506.6 1145.1M522.0 1094.0L521.4 1094.0L520.7 1094.0L520.0 1094.0L519.3 1094.1L518.8 1094.2L518.4 1094.5L518.2 1095.1L518.3 1096.0L518.5 1097.2L518.6 1098.8L518.4 1100.3L517.8 1101.5L516.5 1101.7L514.6 1100.9L512.6 1099.8L510.9 1099.4L509.9 1100.2L509.5 1102.1L509.4 1104.2L509.3 1105.8L509.0 1106.6L508.2 1106.8L507.1 1106.7L505.8 1106.5L504.4 1106.4L503.2 1106.4L502.3 1106.5L501.8 1106.9L501.7 1107.7L501.7 1109.1L501.6 1110.9L501.1 1112.7L500.2 1113.6L498.7 1113.3L496.9 1112.1L495.1 1110.9L493.7 1110.5L492.7 1111.3L492.2 1112.8L492.0 1114.4L492.2 1115.7L492.4 1116.6L492.5 1117.1L492.3 1117.5L491.9 1117.7L491.3 1117.8L490.6 1118.0L489.8 1118.2L489.2 1118.4L488.6 1118.4M522.0 1082.0L521.5 1081.9L521.0 1081.7L520.4 1081.6L519.8 1081.4L519.2 1081.4L518.7 1081.5L518.2 1081.8L518.0 1082.3L517.8 1083.2L517.8 1084.5L517.9 1086.0L517.8 1087.6L517.2 1088.7L516.1 1089.0L514.5 1088.5L512.6 1087.7L510.9 1087.2L509.7 1087.5L509.1 1088.6L509.1 1090.3L509.3 1091.9L509.4 1093.4L509.3 1094.4L508.8 1094.9L507.7 1095.1L506.4 1095.0L504.9 1094.7L503.6 1094.5L502.5 1094.5L501.9 1094.7L501.6 1095.4L501.5 1096.4L501.5 1097.7L501.5 1099.2L501.4 1100.4L501.2 1101.3L500.8 1101.8L500.2 1101.9L499.4 1101.7L498.5 1101.6L497.3 1101.6L496.1 1101.9L495.0 1102.4L494.4 1103.1L494.2 1103.9L494.4 1104.7L495.0 1105.4L495.7 1106.1L496.4 1106.6L496.8 1107.1M502.2 1026.5L501.8 1027.5L501.5 1028.6L501.4 1029.7L502.0 1030.5L503.4 1030.8L505.3 1030.7L507.2 1030.6L508.5 1030.8L509.1 1031.4L509.1 1032.5L508.9 1034.0L509.0 1035.7L509.5 1037.2L510.2 1038.0L511.2 1038.1L512.4 1037.5L513.7 1036.7L515.1 1036.2L516.5 1036.3L517.6 1037.2L518.0 1038.7L517.5 1040.0L516.4 1040.8L514.8 1041.1L513.2 1041.3L511.9 1041.7L511.2 1042.6L511.1 1043.9L511.8 1045.3L513.2 1046.0L514.7 1045.7L516.0 1044.9L517.2 1044.6L518.1 1045.4L518.8 1047.3L519.5 1049.6L520.4 1051.0L521.5 1051.0L522.9 1050.3L524.4 1049.6L525.9 1049.4L527.1 1049.7L527.9 1050.5L528.0 1051.5L527.7 1052.6L526.9 1053.6L526.2 1054.5L525.5 1055.3L525.1 1056.0L524.9 1056.6M484.6 1074.8L485.8 1075.9L487.3 1076.7L488.7 1075.9L489.7 1073.4L490.9 1070.8L492.7 1070.5L494.9 1072.4L496.8 1074.2L498.1 1074.2L499.1 1073.0L500.3 1071.6L501.7 1070.8L503.1 1070.6L504.1 1071.2L504.6 1072.2L504.5 1073.5L504.3 1074.9L504.2 1076.5L504.6 1077.8L505.6 1078.6L506.9 1078.6L508.2 1077.6L509.6 1076.2L510.8 1075.0L512.0 1074.6L513.0 1075.3L513.9 1076.8L514.8 1078.5L515.7 1079.8L516.6 1080.3L517.5 1080.1L518.5 1079.2L519.4 1078.0L520.3 1076.8L521.1 1075.8L521.8 1075.4L522.5 1075.4L523.1 1075.8L523.6 1076.4L524.0 1076.9" fill="none" stroke="#234a80" stroke-width="1.9" stroke-linecap="round" stroke-linejoin="round"/><path d="M475.8 1065.3C482 1063 492 1062 499.2 1067.5S512 1064 519.7 1068.9" fill="none" stroke="#1b3e72" stroke-width="2.4" stroke-linecap="round"/><ellipse cx="574" cy="1093" rx="46" ry="49" fill="#000" fill-opacity="0.25" filter="url(#bl7)"/><ellipse cx="565.8" cy="1083.7" rx="45.2" ry="48.7" fill="url(#redg)"/><use href="#hx" transform="translate(459.8,984.1)"/><use href="#hx" transform="translate(495.8,982.9)"/><use href="#hx" transform="translate(542.4,964.9)"/><use href="#hx" transform="translate(615.9,964.9)"/><use href="#hx" transform="translate(450.0,1038.4)"/><use href="#hx" transform="translate(681.2,1030.2)"/><use href="#hx" transform="translate(459.2,1093.9)"/><use href="#hx" transform="translate(691.0,1085.7)"/><use href="#hx" transform="translate(478.1,1159.2)"/><use href="#hx" transform="translate(673.1,1157.6)"/><use href="#hx" transform="translate(495.8,1214.7)"/><use href="#hx" transform="translate(542.4,1204.9)"/><use href="#hx" transform="translate(589.8,1196.7)"/><use href="#hx" transform="translate(626.4,1186.9)"/><use href="#hx" transform="translate(663.3,1196.7)"/><use href="#hx" transform="translate(580.0,1242.4)"/><path d="M888.5 1063.1L923.9 1057.6L888.5 1003.8L942.3 1038.9L947.7 1005.4L965.3 1033.3L992.3 983.1L986.3 1039.9L1018.5 1025.4L1002.1 1056.3L1038.5 1057.7L1009.4 1081.6L1043.1 1104.6L1002.1 1110.3L1017.7 1149.2L983.6 1128.2L981.5 1163.8L964.9 1133.3L947.7 1182.3L946.1 1129.6L920.8 1143.8L927.9 1115.0L887.7 1116.9L917.5 1087.2Z" transform="translate(12,10)" fill="#000" fill-opacity="0.33" filter="url(#bl8)"/><ellipse cx="973.4" cy="1093.3" rx="50" ry="52" fill="#000" fill-opacity="0.25" filter="url(#bl8)"/><path d="M888.5 1063.1L923.9 1057.6L888.5 1003.8L942.3 1038.9L947.7 1005.4L965.3 1033.3L992.3 983.1L986.3 1039.9L1018.5 1025.4L1002.1 1056.3L1038.5 1057.7L1009.4 1081.6L1043.1 1104.6L1002.1 1110.3L1017.7 1149.2L983.6 1128.2L981.5 1163.8L964.9 1133.3L947.7 1182.3L946.1 1129.6L920.8 1143.8L927.9 1115.0L887.7 1116.9L917.5 1087.2Z" fill="#24d6cb"/><path d="M888.5 1063.1L923.9 1057.6L963.4 1083.3ZM888.5 1003.8L942.3 1038.9L963.4 1083.3ZM947.7 1005.4L965.3 1033.3L963.4 1083.3ZM992.3 983.1L986.3 1039.9L963.4 1083.3ZM1018.5 1025.4L1002.1 1056.3L963.4 1083.3ZM1038.5 1057.7L1009.4 1081.6L963.4 1083.3ZM1043.1 1104.6L1002.1 1110.3L963.4 1083.3ZM1017.7 1149.2L983.6 1128.2L963.4 1083.3ZM981.5 1163.8L964.9 1133.3L963.4 1083.3ZM947.7 1182.3L946.1 1129.6L963.4 1083.3ZM920.8 1143.8L927.9 1115.0L963.4 1083.3ZM887.7 1116.9L917.5 1087.2L963.4 1083.3Z" fill="#0e9a90" fill-opacity="0.55"/><path d="M888.5 1063.1L917.5 1087.2L963.4 1083.3ZM888.5 1003.8L923.9 1057.6L963.4 1083.3ZM947.7 1005.4L942.3 1038.9L963.4 1083.3ZM992.3 983.1L965.3 1033.3L963.4 1083.3ZM1018.5 1025.4L986.3 1039.9L963.4 1083.3ZM1038.5 1057.7L1002.1 1056.3L963.4 1083.3ZM1043.1 1104.6L1009.4 1081.6L963.4 1083.3ZM1017.7 1149.2L1002.1 1110.3L963.4 1083.3ZM981.5 1163.8L983.6 1128.2L963.4 1083.3ZM947.7 1182.3L964.9 1133.3L963.4 1083.3ZM920.8 1143.8L946.1 1129.6L963.4 1083.3ZM887.7 1116.9L927.9 1115.0L963.4 1083.3Z" fill="#48fff4" fill-opacity="0.55"/><ellipse cx="963.4" cy="1083.3" rx="44.5" ry="48.2" fill="url(#redg)"/><path d="M1000.0 951.0L998.9 952.4L997.9 954.2L998.1 955.5L1000.3 955.9L1003.7 955.9L1006.5 956.3L1007.3 957.8L1006.1 959.8L1004.0 961.2L1002.3 961.0L1001.4 960.0L1001.1 959.6L1000.7 960.6L1000.1 963.2L999.1 966.2L997.8 967.9L996.2 967.0L994.5 964.4L992.6 962.1L990.9 961.4L989.9 962.2L989.4 964.5L989.0 967.2L988.5 969.5L987.8 970.4L986.6 969.9L985.1 968.7L983.5 967.6L981.8 967.2L980.2 968.1L979.7 970.6L980.5 972.5L981.8 973.2L983.6 972.8L985.8 971.6L988.0 970.6L989.7 970.5L990.9 971.7L991.3 973.9L990.1 976.0L988.1 976.2L986.0 975.1L984.1 973.8L982.9 974.0L982.3 976.5L982.2 980.1L981.7 982.5L980.4 982.6L978.5 981.4L976.3 980.3L974.2 980.2L972.7 980.9L972.1 982.1L972.6 983.4L973.8 984.7L975.3 985.7L976.8 986.5L977.9 987.2L978.5 988.0L978.7 988.7M910.8 968.5L911.1 970.2L911.7 972.1L912.8 972.9L914.6 971.7L916.8 969.1L918.9 967.3L920.5 967.4L921.3 969.3L921.3 971.5L920.6 972.7L919.5 972.1L918.8 971.3L918.0 971.1L917.7 972.1L917.9 974.3L918.3 977.1L918.6 979.2L918.7 979.9L918.6 979.3L918.1 977.7L916.8 977.6L916.5 979.5L917.0 982.0L918.1 983.7L919.6 983.3L921.5 981.2L923.7 979.1L925.9 978.7L927.7 980.5L927.6 983.4L925.1 984.6L921.5 984.1L919.3 984.5L920.3 988.4L921.5 992.8L918.9 993.4L914.2 992.0L911.7 992.6L911.7 995.0L913.0 997.1L914.6 996.8L915.5 995.0L916.4 993.8L918.0 995.3L920.4 998.8L922.6 1000.7L924.1 998.6L925.5 995.1L927.4 993.2L929.7 993.7L931.1 995.8L930.7 997.8L929.1 999.0L926.9 999.6L925.0 999.9L924.0 1000.6L924.4 1002.0L925.9 1003.8L927.9 1005.6L929.4 1006.8L929.8 1007.8L928.7 1008.8L926.2 1009.7L923.5 1010.6L921.7 1011.6L921.7 1012.8L923.1 1014.2L925.0 1015.4L926.6 1016.5L927.5 1017.3M852.9 1008.2L852.7 1010.2L852.8 1012.2L853.9 1013.0L856.3 1011.9L859.5 1009.9L862.0 1009.3L862.6 1011.6L861.9 1015.3L861.3 1018.1L862.2 1018.7L864.9 1018.3L868.3 1018.1L870.5 1019.1L869.9 1021.1L867.4 1023.7L865.4 1026.2L865.9 1027.9L868.8 1028.4L872.2 1027.9L874.1 1027.6L874.4 1028.6L874.1 1031.6L874.2 1035.0L875.5 1036.7L877.7 1035.4L880.3 1032.8L882.7 1031.3L884.1 1032.5L884.3 1035.6L883.5 1038.7L883.2 1040.4L884.8 1040.7L888.1 1040.3L891.4 1040.4L892.5 1041.7L891.2 1044.1L889.0 1046.6L887.8 1048.5L888.1 1049.7L889.1 1050.1M820.8 1079.2L821.7 1081.4L823.0 1083.0L824.6 1082.4L826.5 1079.0L828.6 1076.1L830.6 1077.0L832.2 1081.2L833.7 1083.9L835.6 1082.8L838.0 1079.8L840.5 1078.2L842.1 1079.1L842.3 1082.2L841.9 1085.6L842.3 1087.7L844.4 1087.5L847.2 1085.7L849.6 1083.9L850.8 1083.8L851.5 1086.1L852.7 1089.5L854.7 1091.5L856.4 1090.3L857.6 1086.6L858.8 1083.5L860.7 1083.6L863.1 1086.6L865.1 1089.4L866.5 1089.2L868.2 1086.2L870.5 1083.2L872.6 1083.4L873.7 1087.5L874.7 1091.2L876.9 1090.8L880.1 1087.7L882.6 1086.2L883.7 1087.8L884.1 1090.8L884.4 1093.2M846.2 1163.8L848.5 1164.9L850.5 1165.2L851.1 1163.2L850.2 1159.1L850.2 1155.8L853.3 1156.2L857.7 1158.3L859.7 1157.2L858.9 1152.4L859.2 1148.9L862.6 1149.8L867.1 1152.2L868.6 1150.0L867.9 1144.4L869.9 1142.8L874.8 1145.6L877.7 1145.4L877.3 1140.2L877.7 1136.7L881.2 1137.8L885.5 1139.8L886.9 1138.0L886.0 1133.0L886.6 1130.1L890.3 1131.4L894.2 1133.0L895.7 1131.8L895.1 1128.4L894.4 1125.3L894.6 1123.7M915.5 1153.7L913.4 1153.0L911.4 1152.5L910.6 1154.0L911.5 1157.6L912.4 1161.2L911.0 1162.2L907.3 1161.3L903.7 1161.1L902.5 1162.8L903.8 1165.3L906.6 1166.5L909.0 1166.6L909.6 1167.6L908.3 1170.4L906.6 1173.9L906.9 1175.8L909.8 1175.6L913.5 1175.5L915.8 1177.0L915.3 1179.5L912.3 1180.7L909.0 1180.3L907.1 1180.5L907.6 1183.3L908.8 1187.5L908.2 1189.6L905.0 1188.9L901.0 1188.2L898.9 1189.7L900.1 1192.4L903.5 1194.1L906.0 1195.1L904.8 1197.3L901.6 1200.9L901.6 1203.5L905.8 1203.8L909.8 1203.9L910.3 1205.7L908.6 1208.3L907.0 1210.4M966.3 1172.3L963.8 1171.3L961.7 1171.2L961.7 1174.3L962.7 1179.0L961.2 1180.6L956.4 1178.8L953.0 1178.8L953.6 1182.3L955.7 1185.7L956.5 1186.8L955.3 1187.0L952.9 1188.7L951.2 1191.6L952.0 1193.5L955.2 1193.2L959.1 1192.4L961.2 1193.2L960.6 1195.9L958.3 1198.3L956.2 1199.0L955.8 1199.2L957.2 1201.3L958.8 1204.9L958.5 1207.4L955.3 1207.0L951.2 1205.5L949.0 1206.3L949.7 1209.4L951.8 1212.3L953.1 1213.4L952.2 1214.1L949.2 1216.3L947.1 1219.2L948.8 1220.8L953.3 1220.8L956.4 1221.2L956.0 1223.5L953.9 1226.8L952.7 1229.0L952.9 1229.9M995.1 1155.4L993.9 1158.0L994.1 1160.1L997.4 1160.0L1002.1 1158.9L1003.4 1161.1L1001.0 1166.0L1001.2 1168.6L1005.8 1168.4L1009.7 1169.1L1009.3 1171.7L1006.1 1174.0L1003.3 1175.1L1003.9 1176.8L1006.8 1179.8L1008.5 1182.6L1006.5 1183.8L1002.4 1184.2L999.7 1185.6L1000.2 1188.0L1003.1 1189.3L1006.3 1189.0L1007.8 1188.8L1007.7 1191.1L1007.2 1195.3L1008.1 1198.0L1010.8 1196.9L1014.4 1194.4L1016.9 1194.2L1017.3 1196.9L1016.2 1200.1L1014.9 1202.3L1015.2 1203.2L1017.6 1203.6L1020.9 1204.2L1023.1 1205.3L1023.3 1206.7L1021.7 1208.2L1019.6 1209.7L1017.9 1210.9L1017.2 1211.9M1023.8 1119.8L1022.8 1122.4L1023.0 1124.5L1026.1 1124.3L1030.7 1122.9L1032.5 1124.5L1030.7 1129.4L1030.6 1132.6L1034.8 1132.0L1039.0 1131.4L1039.8 1133.4L1038.0 1136.8L1036.2 1139.5L1036.6 1140.9L1039.4 1141.2L1042.8 1141.4L1045.0 1142.1L1044.9 1143.6L1043.2 1145.9L1041.4 1148.6L1041.1 1150.8L1043.0 1151.5L1046.2 1150.8L1049.2 1149.9L1050.7 1150.3L1050.6 1152.6L1049.6 1155.8L1049.1 1158.5L1050.0 1159.5L1052.3 1159.0L1055.1 1158.1L1057.6 1157.6L1058.8 1158.3L1058.6 1160.3L1057.4 1162.8L1056.3 1165.2L1056.1 1166.8L1056.9 1167.5L1058.5 1167.4L1060.2 1167.1L1061.6 1166.8M1042.5 1072.5L1042.4 1074.9L1043.0 1076.9L1044.8 1076.8L1048.1 1074.5L1051.2 1072.8L1052.4 1075.0L1052.1 1079.6L1052.8 1082.2L1055.4 1081.4L1058.8 1079.4L1061.3 1079.0L1062.1 1080.6L1061.3 1083.6L1060.2 1086.5L1060.1 1088.4L1061.7 1088.8L1064.6 1088.1L1067.6 1087.2L1069.4 1087.3L1069.4 1089.3L1068.6 1092.8L1068.3 1095.9L1070.0 1096.7L1073.3 1095.1L1076.5 1093.5L1078.1 1094.4L1077.8 1097.7L1077.2 1101.4L1077.9 1103.1L1080.3 1102.5L1083.7 1101.0L1086.4 1100.7L1086.9 1102.7L1085.7 1106.2L1084.8 1109.3L1085.8 1110.4L1088.4 1110.0L1091.2 1109.1L1093.2 1108.6L1094.2 1108.8M1020.5 1033.5L1023.8 1035.4L1026.8 1036.5L1027.1 1035.2L1023.9 1030.7L1020.2 1025.4L1020.7 1023.6L1026.1 1026.5L1031.5 1030.3L1032.5 1029.7L1030.0 1024.1L1028.4 1018.0L1030.0 1017.1L1034.3 1022.3L1038.0 1027.4L1038.9 1025.4L1037.9 1017.7L1038.1 1013.0L1041.0 1016.4L1045.0 1023.0L1047.2 1024.3L1046.9 1018.4L1046.2 1011.3L1047.9 1010.9L1051.7 1017.2L1054.9 1021.9L1055.7 1019.0L1055.0 1011.6L1055.1 1007.4L1057.3 1009.7L1060.9 1015.2L1063.9 1018.6L1064.9 1017.2L1063.8 1011.9L1062.4 1006.5L1062.4 1004.1L1064.3 1005.4L1067.2 1008.8L1070.0 1012.0L1071.9 1013.9L1072.8 1014.4" fill="none" stroke="#14305c" stroke-width="5.6" stroke-linecap="round" stroke-linejoin="round"/><path d="M1000.0 951.0L998.9 952.4L997.9 954.2L998.1 955.5L1000.3 955.9L1003.7 955.9L1006.5 956.3L1007.3 957.8L1006.1 959.8L1004.0 961.2L1002.3 961.0L1001.4 960.0L1001.1 959.6L1000.7 960.6L1000.1 963.2L999.1 966.2L997.8 967.9L996.2 967.0L994.5 964.4L992.6 962.1L990.9 961.4L989.9 962.2L989.4 964.5L989.0 967.2L988.5 969.5L987.8 970.4L986.6 969.9L985.1 968.7L983.5 967.6L981.8 967.2L980.2 968.1L979.7 970.6L980.5 972.5L981.8 973.2L983.6 972.8L985.8 971.6L988.0 970.6L989.7 970.5L990.9 971.7L991.3 973.9L990.1 976.0L988.1 976.2L986.0 975.1L984.1 973.8L982.9 974.0L982.3 976.5L982.2 980.1L981.7 982.5L980.4 982.6L978.5 981.4L976.3 980.3L974.2 980.2L972.7 980.9L972.1 982.1L972.6 983.4L973.8 984.7L975.3 985.7L976.8 986.5L977.9 987.2L978.5 988.0L978.7 988.7M910.8 968.5L911.1 970.2L911.7 972.1L912.8 972.9L914.6 971.7L916.8 969.1L918.9 967.3L920.5 967.4L921.3 969.3L921.3 971.5L920.6 972.7L919.5 972.1L918.8 971.3L918.0 971.1L917.7 972.1L917.9 974.3L918.3 977.1L918.6 979.2L918.7 979.9L918.6 979.3L918.1 977.7L916.8 977.6L916.5 979.5L917.0 982.0L918.1 983.7L919.6 983.3L921.5 981.2L923.7 979.1L925.9 978.7L927.7 980.5L927.6 983.4L925.1 984.6L921.5 984.1L919.3 984.5L920.3 988.4L921.5 992.8L918.9 993.4L914.2 992.0L911.7 992.6L911.7 995.0L913.0 997.1L914.6 996.8L915.5 995.0L916.4 993.8L918.0 995.3L920.4 998.8L922.6 1000.7L924.1 998.6L925.5 995.1L927.4 993.2L929.7 993.7L931.1 995.8L930.7 997.8L929.1 999.0L926.9 999.6L925.0 999.9L924.0 1000.6L924.4 1002.0L925.9 1003.8L927.9 1005.6L929.4 1006.8L929.8 1007.8L928.7 1008.8L926.2 1009.7L923.5 1010.6L921.7 1011.6L921.7 1012.8L923.1 1014.2L925.0 1015.4L926.6 1016.5L927.5 1017.3M852.9 1008.2L852.7 1010.2L852.8 1012.2L853.9 1013.0L856.3 1011.9L859.5 1009.9L862.0 1009.3L862.6 1011.6L861.9 1015.3L861.3 1018.1L862.2 1018.7L864.9 1018.3L868.3 1018.1L870.5 1019.1L869.9 1021.1L867.4 1023.7L865.4 1026.2L865.9 1027.9L868.8 1028.4L872.2 1027.9L874.1 1027.6L874.4 1028.6L874.1 1031.6L874.2 1035.0L875.5 1036.7L877.7 1035.4L880.3 1032.8L882.7 1031.3L884.1 1032.5L884.3 1035.6L883.5 1038.7L883.2 1040.4L884.8 1040.7L888.1 1040.3L891.4 1040.4L892.5 1041.7L891.2 1044.1L889.0 1046.6L887.8 1048.5L888.1 1049.7L889.1 1050.1M820.8 1079.2L821.7 1081.4L823.0 1083.0L824.6 1082.4L826.5 1079.0L828.6 1076.1L830.6 1077.0L832.2 1081.2L833.7 1083.9L835.6 1082.8L838.0 1079.8L840.5 1078.2L842.1 1079.1L842.3 1082.2L841.9 1085.6L842.3 1087.7L844.4 1087.5L847.2 1085.7L849.6 1083.9L850.8 1083.8L851.5 1086.1L852.7 1089.5L854.7 1091.5L856.4 1090.3L857.6 1086.6L858.8 1083.5L860.7 1083.6L863.1 1086.6L865.1 1089.4L866.5 1089.2L868.2 1086.2L870.5 1083.2L872.6 1083.4L873.7 1087.5L874.7 1091.2L876.9 1090.8L880.1 1087.7L882.6 1086.2L883.7 1087.8L884.1 1090.8L884.4 1093.2M846.2 1163.8L848.5 1164.9L850.5 1165.2L851.1 1163.2L850.2 1159.1L850.2 1155.8L853.3 1156.2L857.7 1158.3L859.7 1157.2L858.9 1152.4L859.2 1148.9L862.6 1149.8L867.1 1152.2L868.6 1150.0L867.9 1144.4L869.9 1142.8L874.8 1145.6L877.7 1145.4L877.3 1140.2L877.7 1136.7L881.2 1137.8L885.5 1139.8L886.9 1138.0L886.0 1133.0L886.6 1130.1L890.3 1131.4L894.2 1133.0L895.7 1131.8L895.1 1128.4L894.4 1125.3L894.6 1123.7M915.5 1153.7L913.4 1153.0L911.4 1152.5L910.6 1154.0L911.5 1157.6L912.4 1161.2L911.0 1162.2L907.3 1161.3L903.7 1161.1L902.5 1162.8L903.8 1165.3L906.6 1166.5L909.0 1166.6L909.6 1167.6L908.3 1170.4L906.6 1173.9L906.9 1175.8L909.8 1175.6L913.5 1175.5L915.8 1177.0L915.3 1179.5L912.3 1180.7L909.0 1180.3L907.1 1180.5L907.6 1183.3L908.8 1187.5L908.2 1189.6L905.0 1188.9L901.0 1188.2L898.9 1189.7L900.1 1192.4L903.5 1194.1L906.0 1195.1L904.8 1197.3L901.6 1200.9L901.6 1203.5L905.8 1203.8L909.8 1203.9L910.3 1205.7L908.6 1208.3L907.0 1210.4M966.3 1172.3L963.8 1171.3L961.7 1171.2L961.7 1174.3L962.7 1179.0L961.2 1180.6L956.4 1178.8L953.0 1178.8L953.6 1182.3L955.7 1185.7L956.5 1186.8L955.3 1187.0L952.9 1188.7L951.2 1191.6L952.0 1193.5L955.2 1193.2L959.1 1192.4L961.2 1193.2L960.6 1195.9L958.3 1198.3L956.2 1199.0L955.8 1199.2L957.2 1201.3L958.8 1204.9L958.5 1207.4L955.3 1207.0L951.2 1205.5L949.0 1206.3L949.7 1209.4L951.8 1212.3L953.1 1213.4L952.2 1214.1L949.2 1216.3L947.1 1219.2L948.8 1220.8L953.3 1220.8L956.4 1221.2L956.0 1223.5L953.9 1226.8L952.7 1229.0L952.9 1229.9M995.1 1155.4L993.9 1158.0L994.1 1160.1L997.4 1160.0L1002.1 1158.9L1003.4 1161.1L1001.0 1166.0L1001.2 1168.6L1005.8 1168.4L1009.7 1169.1L1009.3 1171.7L1006.1 1174.0L1003.3 1175.1L1003.9 1176.8L1006.8 1179.8L1008.5 1182.6L1006.5 1183.8L1002.4 1184.2L999.7 1185.6L1000.2 1188.0L1003.1 1189.3L1006.3 1189.0L1007.8 1188.8L1007.7 1191.1L1007.2 1195.3L1008.1 1198.0L1010.8 1196.9L1014.4 1194.4L1016.9 1194.2L1017.3 1196.9L1016.2 1200.1L1014.9 1202.3L1015.2 1203.2L1017.6 1203.6L1020.9 1204.2L1023.1 1205.3L1023.3 1206.7L1021.7 1208.2L1019.6 1209.7L1017.9 1210.9L1017.2 1211.9M1023.8 1119.8L1022.8 1122.4L1023.0 1124.5L1026.1 1124.3L1030.7 1122.9L1032.5 1124.5L1030.7 1129.4L1030.6 1132.6L1034.8 1132.0L1039.0 1131.4L1039.8 1133.4L1038.0 1136.8L1036.2 1139.5L1036.6 1140.9L1039.4 1141.2L1042.8 1141.4L1045.0 1142.1L1044.9 1143.6L1043.2 1145.9L1041.4 1148.6L1041.1 1150.8L1043.0 1151.5L1046.2 1150.8L1049.2 1149.9L1050.7 1150.3L1050.6 1152.6L1049.6 1155.8L1049.1 1158.5L1050.0 1159.5L1052.3 1159.0L1055.1 1158.1L1057.6 1157.6L1058.8 1158.3L1058.6 1160.3L1057.4 1162.8L1056.3 1165.2L1056.1 1166.8L1056.9 1167.5L1058.5 1167.4L1060.2 1167.1L1061.6 1166.8M1042.5 1072.5L1042.4 1074.9L1043.0 1076.9L1044.8 1076.8L1048.1 1074.5L1051.2 1072.8L1052.4 1075.0L1052.1 1079.6L1052.8 1082.2L1055.4 1081.4L1058.8 1079.4L1061.3 1079.0L1062.1 1080.6L1061.3 1083.6L1060.2 1086.5L1060.1 1088.4L1061.7 1088.8L1064.6 1088.1L1067.6 1087.2L1069.4 1087.3L1069.4 1089.3L1068.6 1092.8L1068.3 1095.9L1070.0 1096.7L1073.3 1095.1L1076.5 1093.5L1078.1 1094.4L1077.8 1097.7L1077.2 1101.4L1077.9 1103.1L1080.3 1102.5L1083.7 1101.0L1086.4 1100.7L1086.9 1102.7L1085.7 1106.2L1084.8 1109.3L1085.8 1110.4L1088.4 1110.0L1091.2 1109.1L1093.2 1108.6L1094.2 1108.8M1020.5 1033.5L1023.8 1035.4L1026.8 1036.5L1027.1 1035.2L1023.9 1030.7L1020.2 1025.4L1020.7 1023.6L1026.1 1026.5L1031.5 1030.3L1032.5 1029.7L1030.0 1024.1L1028.4 1018.0L1030.0 1017.1L1034.3 1022.3L1038.0 1027.4L1038.9 1025.4L1037.9 1017.7L1038.1 1013.0L1041.0 1016.4L1045.0 1023.0L1047.2 1024.3L1046.9 1018.4L1046.2 1011.3L1047.9 1010.9L1051.7 1017.2L1054.9 1021.9L1055.7 1019.0L1055.0 1011.6L1055.1 1007.4L1057.3 1009.7L1060.9 1015.2L1063.9 1018.6L1064.9 1017.2L1063.8 1011.9L1062.4 1006.5L1062.4 1004.1L1064.3 1005.4L1067.2 1008.8L1070.0 1012.0L1071.9 1013.9L1072.8 1014.4" fill="none" stroke="#234a80" stroke-width="2.2" stroke-linecap="round" stroke-linejoin="round"/><path d="M777.2 995L779 989.5" stroke="#3a5a8a" stroke-width="1.2"/><g filter="url(#bl8)" fill="#000" fill-opacity="0.3"><ellipse cx="1129.3" cy="1059.5" rx="15" ry="14"/><ellipse cx="1156.0" cy="1097.4" rx="15" ry="14"/><ellipse cx="1183.6" cy="1123.7" rx="15" ry="14"/><ellipse cx="1138.0" cy="1142.4" rx="15" ry="14"/><ellipse cx="1129.3" cy="1179.0" rx="15" ry="14"/><ellipse cx="1176.1" cy="1179.0" rx="15" ry="14"/><ellipse cx="1110.4" cy="1217.4" rx="15" ry="14"/><ellipse cx="1155.6" cy="1226.0" rx="15" ry="14"/><ellipse cx="1063.4" cy="1254.0" rx="15" ry="14"/><ellipse cx="1101.1" cy="1263.0" rx="15" ry="14"/><ellipse cx="1147.0" cy="1271.7" rx="15" ry="14"/><ellipse cx="1018.2" cy="1282.0" rx="15" ry="14"/><ellipse cx="981.6" cy="1299.2" rx="15" ry="14"/><ellipse cx="1055.0" cy="1299.2" rx="15" ry="14"/><ellipse cx="1110.4" cy="1299.2" rx="15" ry="14"/></g><use href="#hx" transform="translate(1108.3,1039.5)"/><use href="#hx" transform="translate(1135.0,1077.4)"/><use href="#hx" transform="translate(1162.6,1103.7)"/><use href="#hx" transform="translate(1117.0,1122.4)"/><use href="#hx" transform="translate(1108.3,1159.0)"/><use href="#hx" transform="translate(1155.1,1159.0)"/><use href="#hx" transform="translate(1089.4,1197.4)"/><use href="#hx" transform="translate(1134.6,1206.0)"/><use href="#hx" transform="translate(1042.4,1234.0)"/><use href="#hx" transform="translate(1080.1,1243.0)"/><use href="#hx" transform="translate(1126.0,1251.7)"/><use href="#hx" transform="translate(997.2,1262.0)"/><use href="#hx" transform="translate(960.6,1279.2)"/><use href="#hx" transform="translate(1034.0,1279.2)"/><use href="#hx" transform="translate(1089.4,1279.2)"/><ellipse cx="122" cy="1498" rx="45" ry="47" fill="#000" fill-opacity="0.3" filter="url(#bl8)"/><ellipse cx="111.6" cy="1489.9" rx="45.2" ry="46.9" fill="url(#redg)"/><path d="M281.2 1468.7C292 1468 303 1468 307.9 1471.2C311 1473 311 1477 309.5 1477.6C300 1481 280 1480 272.3 1480.8C262 1482 259 1486 261.8 1491.3C268 1494 287 1493 293.3 1495.4C300 1497 302 1501 299 1501.8C294 1506 288 1506 283.6 1506.7C270 1507 260 1502 254.5 1503.5C248 1505 247 1510 248.9 1511.5C252 1517 254 1519 257.8 1519.6C262 1521 266 1522 268.3 1522" fill="none" stroke="#1d4478" stroke-width="5.2" stroke-linecap="round" stroke-linejoin="round"/><ellipse cx="438" cy="1510" rx="12" ry="16" fill="#000" fill-opacity="0.3" filter="url(#bl5)"/><use href="#hx" transform="translate(423,1498.2) scale(1.02,1.32)"/><g font-family="Liberation Serif" fill="#0a0a12" stroke="#fff" stroke-width="0.45"><text transform="translate(190.2,858) scale(1.05,1)" font-size="57">(b)</text><text transform="translate(527.5,860.9) scale(0.98,1)" font-size="40">Slow</text><text transform="translate(506,907.5) scale(0.98,1)" font-size="40">Release</text><text transform="translate(941.5,846.4) scale(0.98,1)" font-size="40">Instant</text><text transform="translate(939,892.9) scale(0.98,1)" font-size="40">Release</text><text transform="translate(147,1291.9) scale(0.98,1)" font-size="40">MNC@DOX</text><text transform="translate(515,1364.9) scale(0.98,1)" font-size="40">pH = 7.4</text><text transform="translate(515.5,1431) scale(0.98,1)" font-size="40">T &gt; LCST</text><text transform="translate(892,1364.5) scale(0.98,1)" font-size="40">pH = 4.5-5.5</text><text transform="translate(881.3,1430.8) scale(0.98,1)" font-size="40">T &gt; LCST</text><text transform="translate(58.5,1568.8) scale(0.98,1)" font-size="40">MNPs</text><text transform="translate(204,1568.8) scale(0.98,1)" font-size="40">Polymer</text><text transform="translate(372,1568.8) scale(0.98,1)" font-size="40">DOX</text></g>
</svg>
</body></html>
